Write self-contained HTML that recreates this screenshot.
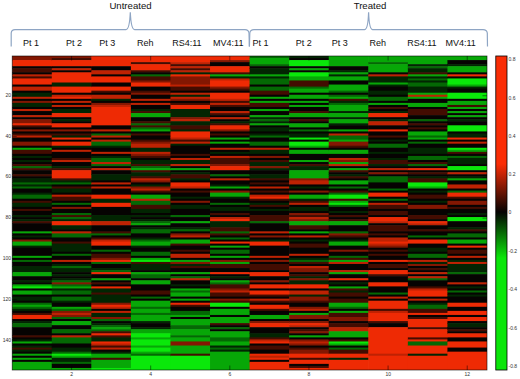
<!DOCTYPE html>
<html><head><meta charset="utf-8"><style>
html,body{margin:0;padding:0;background:#fff;width:520px;height:379px;overflow:hidden}
svg{display:block}
text{font-family:"Liberation Sans",sans-serif}
</style></head><body>
<svg width="520" height="379" viewBox="0 0 520 379" xmlns="http://www.w3.org/2000/svg">
<defs>
<linearGradient id="cb" x1="0" y1="0" x2="0" y2="1">
<stop offset="0" stop-color="rgb(250,45,5)"/>
<stop offset="0.344" stop-color="rgb(250,45,5)"/>
<stop offset="0.497" stop-color="rgb(5,3,2)"/>
<stop offset="0.643" stop-color="rgb(10,230,10)"/>
<stop offset="1" stop-color="rgb(10,230,10)"/>
</linearGradient>
</defs>
<g style="filter:blur(0.4px)">
<rect x="12.20" y="56.000" width="40.17" height="4.678" fill="rgb(131,23,2)"/>
<rect x="12.20" y="60.078" width="40.17" height="6.717" fill="rgb(238,42,4)"/>
<rect x="12.20" y="66.195" width="40.17" height="2.639" fill="rgb(6,3,2)"/>
<rect x="12.20" y="68.234" width="40.17" height="4.678" fill="rgb(67,12,1)"/>
<rect x="12.20" y="72.312" width="40.17" height="2.639" fill="rgb(6,3,2)"/>
<rect x="12.20" y="74.351" width="40.17" height="2.639" fill="rgb(190,34,3)"/>
<rect x="12.20" y="76.390" width="40.17" height="2.639" fill="rgb(67,12,1)"/>
<rect x="12.20" y="78.429" width="40.17" height="6.717" fill="rgb(238,42,4)"/>
<rect x="12.20" y="84.545" width="40.17" height="2.639" fill="rgb(6,3,2)"/>
<rect x="12.20" y="86.584" width="40.17" height="4.678" fill="rgb(190,34,3)"/>
<rect x="12.20" y="90.662" width="40.17" height="2.639" fill="rgb(6,3,2)"/>
<rect x="12.20" y="92.701" width="40.17" height="4.678" fill="rgb(2,37,2)"/>
<rect x="12.20" y="96.779" width="40.17" height="2.639" fill="rgb(190,34,3)"/>
<rect x="12.20" y="98.818" width="40.17" height="2.639" fill="rgb(6,3,2)"/>
<rect x="12.20" y="100.857" width="40.17" height="2.639" fill="rgb(131,23,2)"/>
<rect x="12.20" y="102.896" width="40.17" height="4.678" fill="rgb(2,37,2)"/>
<rect x="12.20" y="106.974" width="40.17" height="2.639" fill="rgb(6,3,2)"/>
<rect x="12.20" y="109.013" width="40.17" height="2.639" fill="rgb(190,34,3)"/>
<rect x="12.20" y="111.052" width="40.17" height="4.678" fill="rgb(6,3,2)"/>
<rect x="12.20" y="115.130" width="40.17" height="2.639" fill="rgb(190,34,3)"/>
<rect x="12.20" y="117.169" width="40.17" height="2.639" fill="rgb(6,3,2)"/>
<rect x="12.20" y="119.208" width="40.17" height="4.678" fill="rgb(131,23,2)"/>
<rect x="12.20" y="123.286" width="40.17" height="2.639" fill="rgb(238,42,4)"/>
<rect x="12.20" y="125.325" width="40.17" height="2.639" fill="rgb(67,12,1)"/>
<rect x="12.20" y="127.364" width="40.17" height="2.639" fill="rgb(6,3,2)"/>
<rect x="12.20" y="129.403" width="40.17" height="2.639" fill="rgb(131,23,2)"/>
<rect x="12.20" y="131.442" width="40.17" height="2.639" fill="rgb(6,3,2)"/>
<rect x="12.20" y="133.481" width="40.17" height="2.639" fill="rgb(67,12,1)"/>
<rect x="12.20" y="135.519" width="40.17" height="2.639" fill="rgb(190,34,3)"/>
<rect x="12.20" y="137.558" width="40.17" height="4.678" fill="rgb(6,3,2)"/>
<rect x="12.20" y="141.636" width="40.17" height="4.678" fill="rgb(131,23,2)"/>
<rect x="12.20" y="145.714" width="40.17" height="2.639" fill="rgb(6,3,2)"/>
<rect x="12.20" y="147.753" width="40.17" height="2.639" fill="rgb(7,167,7)"/>
<rect x="12.20" y="149.792" width="40.17" height="4.678" fill="rgb(67,12,1)"/>
<rect x="12.20" y="153.870" width="40.17" height="2.639" fill="rgb(6,3,2)"/>
<rect x="12.20" y="155.909" width="40.17" height="2.639" fill="rgb(2,37,2)"/>
<rect x="12.20" y="157.948" width="40.17" height="2.639" fill="rgb(6,3,2)"/>
<rect x="12.20" y="159.987" width="40.17" height="2.639" fill="rgb(2,37,2)"/>
<rect x="12.20" y="162.026" width="40.17" height="2.639" fill="rgb(6,3,2)"/>
<rect x="12.20" y="164.065" width="40.17" height="2.639" fill="rgb(67,12,1)"/>
<rect x="12.20" y="166.104" width="40.17" height="2.639" fill="rgb(4,104,4)"/>
<rect x="12.20" y="168.143" width="40.17" height="2.639" fill="rgb(67,12,1)"/>
<rect x="12.20" y="170.182" width="40.17" height="4.678" fill="rgb(6,3,2)"/>
<rect x="12.20" y="174.260" width="40.17" height="2.639" fill="rgb(67,12,1)"/>
<rect x="12.20" y="176.299" width="40.17" height="2.639" fill="rgb(6,3,2)"/>
<rect x="12.20" y="178.338" width="40.17" height="4.678" fill="rgb(2,37,2)"/>
<rect x="12.20" y="182.416" width="40.17" height="2.639" fill="rgb(4,104,4)"/>
<rect x="12.20" y="184.455" width="40.17" height="2.639" fill="rgb(2,37,2)"/>
<rect x="12.20" y="186.494" width="40.17" height="2.639" fill="rgb(4,104,4)"/>
<rect x="12.20" y="188.532" width="40.17" height="4.678" fill="rgb(6,3,2)"/>
<rect x="12.20" y="192.610" width="40.17" height="2.639" fill="rgb(2,37,2)"/>
<rect x="12.20" y="194.649" width="40.17" height="4.678" fill="rgb(4,104,4)"/>
<rect x="12.20" y="198.727" width="40.17" height="2.639" fill="rgb(6,3,2)"/>
<rect x="12.20" y="200.766" width="40.17" height="2.639" fill="rgb(67,12,1)"/>
<rect x="12.20" y="202.805" width="40.17" height="4.678" fill="rgb(2,37,2)"/>
<rect x="12.20" y="206.883" width="40.17" height="2.639" fill="rgb(6,3,2)"/>
<rect x="12.20" y="208.922" width="40.17" height="2.639" fill="rgb(67,12,1)"/>
<rect x="12.20" y="210.961" width="40.17" height="4.678" fill="rgb(6,3,2)"/>
<rect x="12.20" y="215.039" width="40.17" height="2.639" fill="rgb(2,37,2)"/>
<rect x="12.20" y="217.078" width="40.17" height="2.639" fill="rgb(6,3,2)"/>
<rect x="12.20" y="219.117" width="40.17" height="2.639" fill="rgb(2,37,2)"/>
<rect x="12.20" y="221.156" width="40.17" height="2.639" fill="rgb(67,12,1)"/>
<rect x="12.20" y="223.195" width="40.17" height="8.756" fill="rgb(6,3,2)"/>
<rect x="12.20" y="231.351" width="40.17" height="2.639" fill="rgb(7,167,7)"/>
<rect x="12.20" y="233.390" width="40.17" height="2.639" fill="rgb(6,3,2)"/>
<rect x="12.20" y="235.429" width="40.17" height="2.639" fill="rgb(2,37,2)"/>
<rect x="12.20" y="237.468" width="40.17" height="2.639" fill="rgb(6,3,2)"/>
<rect x="12.20" y="239.506" width="40.17" height="2.639" fill="rgb(131,23,2)"/>
<rect x="12.20" y="241.545" width="40.17" height="4.678" fill="rgb(7,167,7)"/>
<rect x="12.20" y="245.623" width="40.17" height="2.639" fill="rgb(2,37,2)"/>
<rect x="12.20" y="247.662" width="40.17" height="8.756" fill="rgb(6,3,2)"/>
<rect x="12.20" y="255.818" width="40.17" height="2.639" fill="rgb(7,167,7)"/>
<rect x="12.20" y="257.857" width="40.17" height="2.639" fill="rgb(6,3,2)"/>
<rect x="12.20" y="259.896" width="40.17" height="2.639" fill="rgb(4,104,4)"/>
<rect x="12.20" y="261.935" width="40.17" height="4.678" fill="rgb(6,3,2)"/>
<rect x="12.20" y="266.013" width="40.17" height="6.717" fill="rgb(2,37,2)"/>
<rect x="12.20" y="272.130" width="40.17" height="4.678" fill="rgb(7,167,7)"/>
<rect x="12.20" y="276.208" width="40.17" height="4.678" fill="rgb(6,3,2)"/>
<rect x="12.20" y="280.286" width="40.17" height="2.639" fill="rgb(2,37,2)"/>
<rect x="12.20" y="282.325" width="40.17" height="2.639" fill="rgb(6,3,2)"/>
<rect x="12.20" y="284.364" width="40.17" height="2.639" fill="rgb(7,167,7)"/>
<rect x="12.20" y="286.403" width="40.17" height="2.639" fill="rgb(10,232,10)"/>
<rect x="12.20" y="288.442" width="40.17" height="2.639" fill="rgb(6,3,2)"/>
<rect x="12.20" y="290.481" width="40.17" height="4.678" fill="rgb(7,167,7)"/>
<rect x="12.20" y="294.558" width="40.17" height="2.639" fill="rgb(6,3,2)"/>
<rect x="12.20" y="296.597" width="40.17" height="4.678" fill="rgb(2,37,2)"/>
<rect x="12.20" y="300.675" width="40.17" height="2.639" fill="rgb(6,3,2)"/>
<rect x="12.20" y="302.714" width="40.17" height="2.639" fill="rgb(4,104,4)"/>
<rect x="12.20" y="304.753" width="40.17" height="2.639" fill="rgb(7,167,7)"/>
<rect x="12.20" y="306.792" width="40.17" height="2.639" fill="rgb(4,104,4)"/>
<rect x="12.20" y="308.831" width="40.17" height="2.639" fill="rgb(2,37,2)"/>
<rect x="12.20" y="310.870" width="40.17" height="2.639" fill="rgb(6,3,2)"/>
<rect x="12.20" y="312.909" width="40.17" height="2.639" fill="rgb(67,12,1)"/>
<rect x="12.20" y="314.948" width="40.17" height="4.678" fill="rgb(238,42,4)"/>
<rect x="12.20" y="319.026" width="40.17" height="2.639" fill="rgb(6,3,2)"/>
<rect x="12.20" y="321.065" width="40.17" height="2.639" fill="rgb(2,37,2)"/>
<rect x="12.20" y="323.104" width="40.17" height="4.678" fill="rgb(4,104,4)"/>
<rect x="12.20" y="327.182" width="40.17" height="8.756" fill="rgb(6,3,2)"/>
<rect x="12.20" y="335.338" width="40.17" height="2.639" fill="rgb(67,12,1)"/>
<rect x="12.20" y="337.377" width="40.17" height="2.639" fill="rgb(6,3,2)"/>
<rect x="12.20" y="339.416" width="40.17" height="2.639" fill="rgb(2,37,2)"/>
<rect x="12.20" y="341.455" width="40.17" height="2.639" fill="rgb(7,167,7)"/>
<rect x="12.20" y="343.494" width="40.17" height="2.639" fill="rgb(6,3,2)"/>
<rect x="12.20" y="345.532" width="40.17" height="2.639" fill="rgb(2,37,2)"/>
<rect x="12.20" y="347.571" width="40.17" height="2.639" fill="rgb(67,12,1)"/>
<rect x="12.20" y="349.610" width="40.17" height="2.639" fill="rgb(2,37,2)"/>
<rect x="12.20" y="351.649" width="40.17" height="2.639" fill="rgb(6,3,2)"/>
<rect x="12.20" y="353.688" width="40.17" height="2.639" fill="rgb(7,167,7)"/>
<rect x="12.20" y="355.727" width="40.17" height="2.639" fill="rgb(6,3,2)"/>
<rect x="12.20" y="357.766" width="40.17" height="2.639" fill="rgb(7,167,7)"/>
<rect x="12.20" y="359.805" width="40.17" height="2.639" fill="rgb(6,3,2)"/>
<rect x="12.20" y="361.844" width="40.17" height="8.156" fill="rgb(7,167,7)"/>
<rect x="51.77" y="56.000" width="40.17" height="2.639" fill="rgb(131,23,2)"/>
<rect x="51.77" y="58.039" width="40.17" height="2.639" fill="rgb(67,12,1)"/>
<rect x="51.77" y="60.078" width="40.17" height="6.717" fill="rgb(238,42,4)"/>
<rect x="51.77" y="66.195" width="40.17" height="2.639" fill="rgb(6,3,2)"/>
<rect x="51.77" y="68.234" width="40.17" height="2.639" fill="rgb(190,34,3)"/>
<rect x="51.77" y="70.273" width="40.17" height="2.639" fill="rgb(6,3,2)"/>
<rect x="51.77" y="72.312" width="40.17" height="10.795" fill="rgb(238,42,4)"/>
<rect x="51.77" y="82.506" width="40.17" height="4.678" fill="rgb(2,37,2)"/>
<rect x="51.77" y="86.584" width="40.17" height="6.717" fill="rgb(238,42,4)"/>
<rect x="51.77" y="92.701" width="40.17" height="2.639" fill="rgb(6,3,2)"/>
<rect x="51.77" y="94.740" width="40.17" height="2.639" fill="rgb(190,34,3)"/>
<rect x="51.77" y="96.779" width="40.17" height="2.639" fill="rgb(238,42,4)"/>
<rect x="51.77" y="98.818" width="40.17" height="2.639" fill="rgb(6,3,2)"/>
<rect x="51.77" y="100.857" width="40.17" height="2.639" fill="rgb(190,34,3)"/>
<rect x="51.77" y="102.896" width="40.17" height="2.639" fill="rgb(6,3,2)"/>
<rect x="51.77" y="104.935" width="40.17" height="2.639" fill="rgb(190,34,3)"/>
<rect x="51.77" y="106.974" width="40.17" height="2.639" fill="rgb(6,3,2)"/>
<rect x="51.77" y="109.013" width="40.17" height="4.678" fill="rgb(2,37,2)"/>
<rect x="51.77" y="113.091" width="40.17" height="4.678" fill="rgb(238,42,4)"/>
<rect x="51.77" y="117.169" width="40.17" height="2.639" fill="rgb(6,3,2)"/>
<rect x="51.77" y="119.208" width="40.17" height="2.639" fill="rgb(2,37,2)"/>
<rect x="51.77" y="121.247" width="40.17" height="2.639" fill="rgb(6,3,2)"/>
<rect x="51.77" y="123.286" width="40.17" height="4.678" fill="rgb(238,42,4)"/>
<rect x="51.77" y="127.364" width="40.17" height="2.639" fill="rgb(6,3,2)"/>
<rect x="51.77" y="129.403" width="40.17" height="2.639" fill="rgb(131,23,2)"/>
<rect x="51.77" y="131.442" width="40.17" height="2.639" fill="rgb(6,3,2)"/>
<rect x="51.77" y="133.481" width="40.17" height="2.639" fill="rgb(67,12,1)"/>
<rect x="51.77" y="135.519" width="40.17" height="2.639" fill="rgb(2,37,2)"/>
<rect x="51.77" y="137.558" width="40.17" height="2.639" fill="rgb(238,42,4)"/>
<rect x="51.77" y="139.597" width="40.17" height="2.639" fill="rgb(6,3,2)"/>
<rect x="51.77" y="141.636" width="40.17" height="4.678" fill="rgb(238,42,4)"/>
<rect x="51.77" y="145.714" width="40.17" height="2.639" fill="rgb(2,37,2)"/>
<rect x="51.77" y="147.753" width="40.17" height="2.639" fill="rgb(6,3,2)"/>
<rect x="51.77" y="149.792" width="40.17" height="2.639" fill="rgb(190,34,3)"/>
<rect x="51.77" y="151.831" width="40.17" height="6.717" fill="rgb(6,3,2)"/>
<rect x="51.77" y="157.948" width="40.17" height="2.639" fill="rgb(67,12,1)"/>
<rect x="51.77" y="159.987" width="40.17" height="2.639" fill="rgb(190,34,3)"/>
<rect x="51.77" y="162.026" width="40.17" height="4.678" fill="rgb(6,3,2)"/>
<rect x="51.77" y="166.104" width="40.17" height="2.639" fill="rgb(2,37,2)"/>
<rect x="51.77" y="168.143" width="40.17" height="2.639" fill="rgb(67,12,1)"/>
<rect x="51.77" y="170.182" width="40.17" height="8.756" fill="rgb(238,42,4)"/>
<rect x="51.77" y="178.338" width="40.17" height="2.639" fill="rgb(67,12,1)"/>
<rect x="51.77" y="180.377" width="40.17" height="2.639" fill="rgb(2,37,2)"/>
<rect x="51.77" y="182.416" width="40.17" height="2.639" fill="rgb(4,104,4)"/>
<rect x="51.77" y="184.455" width="40.17" height="2.639" fill="rgb(6,3,2)"/>
<rect x="51.77" y="186.494" width="40.17" height="2.639" fill="rgb(67,12,1)"/>
<rect x="51.77" y="188.532" width="40.17" height="4.678" fill="rgb(2,37,2)"/>
<rect x="51.77" y="192.610" width="40.17" height="2.639" fill="rgb(6,3,2)"/>
<rect x="51.77" y="194.649" width="40.17" height="2.639" fill="rgb(190,34,3)"/>
<rect x="51.77" y="196.688" width="40.17" height="4.678" fill="rgb(67,12,1)"/>
<rect x="51.77" y="200.766" width="40.17" height="2.639" fill="rgb(6,3,2)"/>
<rect x="51.77" y="202.805" width="40.17" height="2.639" fill="rgb(4,104,4)"/>
<rect x="51.77" y="204.844" width="40.17" height="2.639" fill="rgb(6,3,2)"/>
<rect x="51.77" y="206.883" width="40.17" height="2.639" fill="rgb(131,23,2)"/>
<rect x="51.77" y="208.922" width="40.17" height="4.678" fill="rgb(6,3,2)"/>
<rect x="51.77" y="213.000" width="40.17" height="2.639" fill="rgb(4,104,4)"/>
<rect x="51.77" y="215.039" width="40.17" height="2.639" fill="rgb(67,12,1)"/>
<rect x="51.77" y="217.078" width="40.17" height="2.639" fill="rgb(4,104,4)"/>
<rect x="51.77" y="219.117" width="40.17" height="2.639" fill="rgb(2,37,2)"/>
<rect x="51.77" y="221.156" width="40.17" height="4.678" fill="rgb(238,42,4)"/>
<rect x="51.77" y="225.234" width="40.17" height="4.678" fill="rgb(2,37,2)"/>
<rect x="51.77" y="229.312" width="40.17" height="2.639" fill="rgb(6,3,2)"/>
<rect x="51.77" y="231.351" width="40.17" height="2.639" fill="rgb(190,34,3)"/>
<rect x="51.77" y="233.390" width="40.17" height="4.678" fill="rgb(4,104,4)"/>
<rect x="51.77" y="237.468" width="40.17" height="4.678" fill="rgb(6,3,2)"/>
<rect x="51.77" y="241.545" width="40.17" height="2.639" fill="rgb(67,12,1)"/>
<rect x="51.77" y="243.584" width="40.17" height="8.756" fill="rgb(2,37,2)"/>
<rect x="51.77" y="251.740" width="40.17" height="2.639" fill="rgb(6,3,2)"/>
<rect x="51.77" y="253.779" width="40.17" height="2.639" fill="rgb(4,104,4)"/>
<rect x="51.77" y="255.818" width="40.17" height="4.678" fill="rgb(6,3,2)"/>
<rect x="51.77" y="259.896" width="40.17" height="2.639" fill="rgb(190,34,3)"/>
<rect x="51.77" y="261.935" width="40.17" height="2.639" fill="rgb(6,3,2)"/>
<rect x="51.77" y="263.974" width="40.17" height="2.639" fill="rgb(2,37,2)"/>
<rect x="51.77" y="266.013" width="40.17" height="2.639" fill="rgb(4,104,4)"/>
<rect x="51.77" y="268.052" width="40.17" height="4.678" fill="rgb(2,37,2)"/>
<rect x="51.77" y="272.130" width="40.17" height="2.639" fill="rgb(6,3,2)"/>
<rect x="51.77" y="274.169" width="40.17" height="2.639" fill="rgb(2,37,2)"/>
<rect x="51.77" y="276.208" width="40.17" height="2.639" fill="rgb(6,3,2)"/>
<rect x="51.77" y="278.247" width="40.17" height="2.639" fill="rgb(2,37,2)"/>
<rect x="51.77" y="280.286" width="40.17" height="2.639" fill="rgb(4,104,4)"/>
<rect x="51.77" y="282.325" width="40.17" height="2.639" fill="rgb(131,23,2)"/>
<rect x="51.77" y="284.364" width="40.17" height="2.639" fill="rgb(4,104,4)"/>
<rect x="51.77" y="286.403" width="40.17" height="2.639" fill="rgb(7,167,7)"/>
<rect x="51.77" y="288.442" width="40.17" height="2.639" fill="rgb(2,37,2)"/>
<rect x="51.77" y="290.481" width="40.17" height="4.678" fill="rgb(4,104,4)"/>
<rect x="51.77" y="294.558" width="40.17" height="2.639" fill="rgb(6,3,2)"/>
<rect x="51.77" y="296.597" width="40.17" height="4.678" fill="rgb(4,104,4)"/>
<rect x="51.77" y="300.675" width="40.17" height="2.639" fill="rgb(2,37,2)"/>
<rect x="51.77" y="302.714" width="40.17" height="4.678" fill="rgb(6,3,2)"/>
<rect x="51.77" y="306.792" width="40.17" height="2.639" fill="rgb(7,167,7)"/>
<rect x="51.77" y="308.831" width="40.17" height="2.639" fill="rgb(4,104,4)"/>
<rect x="51.77" y="310.870" width="40.17" height="2.639" fill="rgb(131,23,2)"/>
<rect x="51.77" y="312.909" width="40.17" height="2.639" fill="rgb(190,34,3)"/>
<rect x="51.77" y="314.948" width="40.17" height="2.639" fill="rgb(131,23,2)"/>
<rect x="51.77" y="316.987" width="40.17" height="2.639" fill="rgb(4,104,4)"/>
<rect x="51.77" y="319.026" width="40.17" height="2.639" fill="rgb(6,3,2)"/>
<rect x="51.77" y="321.065" width="40.17" height="4.678" fill="rgb(7,167,7)"/>
<rect x="51.77" y="325.143" width="40.17" height="4.678" fill="rgb(6,3,2)"/>
<rect x="51.77" y="329.221" width="40.17" height="4.678" fill="rgb(4,104,4)"/>
<rect x="51.77" y="333.299" width="40.17" height="2.639" fill="rgb(6,3,2)"/>
<rect x="51.77" y="335.338" width="40.17" height="2.639" fill="rgb(190,34,3)"/>
<rect x="51.77" y="337.377" width="40.17" height="6.717" fill="rgb(4,104,4)"/>
<rect x="51.77" y="343.494" width="40.17" height="4.678" fill="rgb(6,3,2)"/>
<rect x="51.77" y="347.571" width="40.17" height="4.678" fill="rgb(2,37,2)"/>
<rect x="51.77" y="351.649" width="40.17" height="2.639" fill="rgb(4,104,4)"/>
<rect x="51.77" y="353.688" width="40.17" height="2.639" fill="rgb(10,232,10)"/>
<rect x="51.77" y="355.727" width="40.17" height="2.639" fill="rgb(7,167,7)"/>
<rect x="51.77" y="357.766" width="40.17" height="4.678" fill="rgb(2,37,2)"/>
<rect x="51.77" y="361.844" width="40.17" height="2.639" fill="rgb(4,104,4)"/>
<rect x="51.77" y="363.883" width="40.17" height="4.678" fill="rgb(6,3,2)"/>
<rect x="51.77" y="367.961" width="40.17" height="2.039" fill="rgb(7,167,7)"/>
<rect x="91.33" y="56.000" width="40.17" height="10.795" fill="rgb(238,42,4)"/>
<rect x="91.33" y="66.195" width="40.17" height="4.678" fill="rgb(6,3,2)"/>
<rect x="91.33" y="70.273" width="40.17" height="4.678" fill="rgb(190,34,3)"/>
<rect x="91.33" y="74.351" width="40.17" height="2.639" fill="rgb(6,3,2)"/>
<rect x="91.33" y="76.390" width="40.17" height="6.717" fill="rgb(238,42,4)"/>
<rect x="91.33" y="82.506" width="40.17" height="4.678" fill="rgb(6,3,2)"/>
<rect x="91.33" y="86.584" width="40.17" height="4.678" fill="rgb(238,42,4)"/>
<rect x="91.33" y="90.662" width="40.17" height="2.639" fill="rgb(67,12,1)"/>
<rect x="91.33" y="92.701" width="40.17" height="2.639" fill="rgb(6,3,2)"/>
<rect x="91.33" y="94.740" width="40.17" height="4.678" fill="rgb(190,34,3)"/>
<rect x="91.33" y="98.818" width="40.17" height="2.639" fill="rgb(2,37,2)"/>
<rect x="91.33" y="100.857" width="40.17" height="2.639" fill="rgb(6,3,2)"/>
<rect x="91.33" y="102.896" width="40.17" height="2.639" fill="rgb(131,23,2)"/>
<rect x="91.33" y="104.935" width="40.17" height="2.639" fill="rgb(190,34,3)"/>
<rect x="91.33" y="106.974" width="40.17" height="18.951" fill="rgb(238,42,4)"/>
<rect x="91.33" y="125.325" width="40.17" height="4.678" fill="rgb(6,3,2)"/>
<rect x="91.33" y="129.403" width="40.17" height="2.639" fill="rgb(190,34,3)"/>
<rect x="91.33" y="131.442" width="40.17" height="2.639" fill="rgb(6,3,2)"/>
<rect x="91.33" y="133.481" width="40.17" height="2.639" fill="rgb(4,104,4)"/>
<rect x="91.33" y="135.519" width="40.17" height="2.639" fill="rgb(190,34,3)"/>
<rect x="91.33" y="137.558" width="40.17" height="2.639" fill="rgb(6,3,2)"/>
<rect x="91.33" y="139.597" width="40.17" height="2.639" fill="rgb(190,34,3)"/>
<rect x="91.33" y="141.636" width="40.17" height="4.678" fill="rgb(4,104,4)"/>
<rect x="91.33" y="145.714" width="40.17" height="2.639" fill="rgb(2,37,2)"/>
<rect x="91.33" y="147.753" width="40.17" height="4.678" fill="rgb(6,3,2)"/>
<rect x="91.33" y="151.831" width="40.17" height="2.639" fill="rgb(190,34,3)"/>
<rect x="91.33" y="153.870" width="40.17" height="2.639" fill="rgb(6,3,2)"/>
<rect x="91.33" y="155.909" width="40.17" height="2.639" fill="rgb(2,37,2)"/>
<rect x="91.33" y="157.948" width="40.17" height="4.678" fill="rgb(4,104,4)"/>
<rect x="91.33" y="162.026" width="40.17" height="2.639" fill="rgb(190,34,3)"/>
<rect x="91.33" y="164.065" width="40.17" height="2.639" fill="rgb(4,104,4)"/>
<rect x="91.33" y="166.104" width="40.17" height="2.639" fill="rgb(6,3,2)"/>
<rect x="91.33" y="168.143" width="40.17" height="2.639" fill="rgb(190,34,3)"/>
<rect x="91.33" y="170.182" width="40.17" height="4.678" fill="rgb(6,3,2)"/>
<rect x="91.33" y="174.260" width="40.17" height="6.717" fill="rgb(2,37,2)"/>
<rect x="91.33" y="180.377" width="40.17" height="2.639" fill="rgb(6,3,2)"/>
<rect x="91.33" y="182.416" width="40.17" height="2.639" fill="rgb(190,34,3)"/>
<rect x="91.33" y="184.455" width="40.17" height="2.639" fill="rgb(6,3,2)"/>
<rect x="91.33" y="186.494" width="40.17" height="2.639" fill="rgb(190,34,3)"/>
<rect x="91.33" y="188.532" width="40.17" height="6.717" fill="rgb(6,3,2)"/>
<rect x="91.33" y="194.649" width="40.17" height="4.678" fill="rgb(238,42,4)"/>
<rect x="91.33" y="198.727" width="40.17" height="4.678" fill="rgb(2,37,2)"/>
<rect x="91.33" y="202.805" width="40.17" height="4.678" fill="rgb(238,42,4)"/>
<rect x="91.33" y="206.883" width="40.17" height="8.756" fill="rgb(6,3,2)"/>
<rect x="91.33" y="215.039" width="40.17" height="6.717" fill="rgb(2,37,2)"/>
<rect x="91.33" y="221.156" width="40.17" height="4.678" fill="rgb(190,34,3)"/>
<rect x="91.33" y="225.234" width="40.17" height="6.717" fill="rgb(6,3,2)"/>
<rect x="91.33" y="231.351" width="40.17" height="2.639" fill="rgb(67,12,1)"/>
<rect x="91.33" y="233.390" width="40.17" height="2.639" fill="rgb(4,104,4)"/>
<rect x="91.33" y="235.429" width="40.17" height="2.639" fill="rgb(6,3,2)"/>
<rect x="91.33" y="237.468" width="40.17" height="2.639" fill="rgb(67,12,1)"/>
<rect x="91.33" y="239.506" width="40.17" height="2.639" fill="rgb(190,34,3)"/>
<rect x="91.33" y="241.545" width="40.17" height="4.678" fill="rgb(238,42,4)"/>
<rect x="91.33" y="245.623" width="40.17" height="4.678" fill="rgb(6,3,2)"/>
<rect x="91.33" y="249.701" width="40.17" height="2.639" fill="rgb(4,104,4)"/>
<rect x="91.33" y="251.740" width="40.17" height="2.639" fill="rgb(6,3,2)"/>
<rect x="91.33" y="253.779" width="40.17" height="4.678" fill="rgb(67,12,1)"/>
<rect x="91.33" y="257.857" width="40.17" height="2.639" fill="rgb(131,23,2)"/>
<rect x="91.33" y="259.896" width="40.17" height="2.639" fill="rgb(238,42,4)"/>
<rect x="91.33" y="261.935" width="40.17" height="2.639" fill="rgb(4,104,4)"/>
<rect x="91.33" y="263.974" width="40.17" height="4.678" fill="rgb(6,3,2)"/>
<rect x="91.33" y="268.052" width="40.17" height="2.639" fill="rgb(2,37,2)"/>
<rect x="91.33" y="270.091" width="40.17" height="2.639" fill="rgb(4,104,4)"/>
<rect x="91.33" y="272.130" width="40.17" height="2.639" fill="rgb(238,42,4)"/>
<rect x="91.33" y="274.169" width="40.17" height="4.678" fill="rgb(6,3,2)"/>
<rect x="91.33" y="278.247" width="40.17" height="2.639" fill="rgb(7,167,7)"/>
<rect x="91.33" y="280.286" width="40.17" height="2.639" fill="rgb(6,3,2)"/>
<rect x="91.33" y="282.325" width="40.17" height="2.639" fill="rgb(67,12,1)"/>
<rect x="91.33" y="284.364" width="40.17" height="2.639" fill="rgb(6,3,2)"/>
<rect x="91.33" y="286.403" width="40.17" height="2.639" fill="rgb(238,42,4)"/>
<rect x="91.33" y="288.442" width="40.17" height="4.678" fill="rgb(2,37,2)"/>
<rect x="91.33" y="292.519" width="40.17" height="2.639" fill="rgb(67,12,1)"/>
<rect x="91.33" y="294.558" width="40.17" height="8.756" fill="rgb(2,37,2)"/>
<rect x="91.33" y="302.714" width="40.17" height="2.639" fill="rgb(131,23,2)"/>
<rect x="91.33" y="304.753" width="40.17" height="2.639" fill="rgb(238,42,4)"/>
<rect x="91.33" y="306.792" width="40.17" height="2.639" fill="rgb(190,34,3)"/>
<rect x="91.33" y="308.831" width="40.17" height="2.639" fill="rgb(6,3,2)"/>
<rect x="91.33" y="310.870" width="40.17" height="2.639" fill="rgb(190,34,3)"/>
<rect x="91.33" y="312.909" width="40.17" height="4.678" fill="rgb(2,37,2)"/>
<rect x="91.33" y="316.987" width="40.17" height="2.639" fill="rgb(131,23,2)"/>
<rect x="91.33" y="319.026" width="40.17" height="2.639" fill="rgb(4,104,4)"/>
<rect x="91.33" y="321.065" width="40.17" height="2.639" fill="rgb(6,3,2)"/>
<rect x="91.33" y="323.104" width="40.17" height="2.639" fill="rgb(2,37,2)"/>
<rect x="91.33" y="325.143" width="40.17" height="2.639" fill="rgb(4,104,4)"/>
<rect x="91.33" y="327.182" width="40.17" height="2.639" fill="rgb(7,167,7)"/>
<rect x="91.33" y="329.221" width="40.17" height="2.639" fill="rgb(4,104,4)"/>
<rect x="91.33" y="331.260" width="40.17" height="2.639" fill="rgb(67,12,1)"/>
<rect x="91.33" y="333.299" width="40.17" height="2.639" fill="rgb(238,42,4)"/>
<rect x="91.33" y="335.338" width="40.17" height="2.639" fill="rgb(67,12,1)"/>
<rect x="91.33" y="337.377" width="40.17" height="4.678" fill="rgb(2,37,2)"/>
<rect x="91.33" y="341.455" width="40.17" height="2.639" fill="rgb(238,42,4)"/>
<rect x="91.33" y="343.494" width="40.17" height="2.639" fill="rgb(190,34,3)"/>
<rect x="91.33" y="345.532" width="40.17" height="2.639" fill="rgb(67,12,1)"/>
<rect x="91.33" y="347.571" width="40.17" height="2.639" fill="rgb(190,34,3)"/>
<rect x="91.33" y="349.610" width="40.17" height="2.639" fill="rgb(6,3,2)"/>
<rect x="91.33" y="351.649" width="40.17" height="2.639" fill="rgb(2,37,2)"/>
<rect x="91.33" y="353.688" width="40.17" height="4.678" fill="rgb(7,167,7)"/>
<rect x="91.33" y="357.766" width="40.17" height="2.639" fill="rgb(67,12,1)"/>
<rect x="91.33" y="359.805" width="40.17" height="8.756" fill="rgb(7,167,7)"/>
<rect x="91.33" y="367.961" width="40.17" height="2.039" fill="rgb(10,232,10)"/>
<rect x="130.90" y="56.000" width="40.17" height="6.717" fill="rgb(238,42,4)"/>
<rect x="130.90" y="62.117" width="40.17" height="2.639" fill="rgb(67,12,1)"/>
<rect x="130.90" y="64.156" width="40.17" height="6.717" fill="rgb(238,42,4)"/>
<rect x="130.90" y="70.273" width="40.17" height="2.639" fill="rgb(67,12,1)"/>
<rect x="130.90" y="72.312" width="40.17" height="2.639" fill="rgb(6,3,2)"/>
<rect x="130.90" y="74.351" width="40.17" height="2.639" fill="rgb(4,104,4)"/>
<rect x="130.90" y="76.390" width="40.17" height="4.678" fill="rgb(67,12,1)"/>
<rect x="130.90" y="80.468" width="40.17" height="2.639" fill="rgb(131,23,2)"/>
<rect x="130.90" y="82.506" width="40.17" height="4.678" fill="rgb(238,42,4)"/>
<rect x="130.90" y="86.584" width="40.17" height="4.678" fill="rgb(6,3,2)"/>
<rect x="130.90" y="90.662" width="40.17" height="2.639" fill="rgb(67,12,1)"/>
<rect x="130.90" y="92.701" width="40.17" height="2.639" fill="rgb(131,23,2)"/>
<rect x="130.90" y="94.740" width="40.17" height="4.678" fill="rgb(6,3,2)"/>
<rect x="130.90" y="98.818" width="40.17" height="2.639" fill="rgb(190,34,3)"/>
<rect x="130.90" y="100.857" width="40.17" height="2.639" fill="rgb(6,3,2)"/>
<rect x="130.90" y="102.896" width="40.17" height="2.639" fill="rgb(190,34,3)"/>
<rect x="130.90" y="104.935" width="40.17" height="4.678" fill="rgb(6,3,2)"/>
<rect x="130.90" y="109.013" width="40.17" height="2.639" fill="rgb(2,37,2)"/>
<rect x="130.90" y="111.052" width="40.17" height="2.639" fill="rgb(67,12,1)"/>
<rect x="130.90" y="113.091" width="40.17" height="4.678" fill="rgb(7,167,7)"/>
<rect x="130.90" y="117.169" width="40.17" height="4.678" fill="rgb(6,3,2)"/>
<rect x="130.90" y="121.247" width="40.17" height="2.639" fill="rgb(67,12,1)"/>
<rect x="130.90" y="123.286" width="40.17" height="2.639" fill="rgb(4,104,4)"/>
<rect x="130.90" y="125.325" width="40.17" height="2.639" fill="rgb(67,12,1)"/>
<rect x="130.90" y="127.364" width="40.17" height="2.639" fill="rgb(4,104,4)"/>
<rect x="130.90" y="129.403" width="40.17" height="2.639" fill="rgb(7,167,7)"/>
<rect x="130.90" y="131.442" width="40.17" height="2.639" fill="rgb(6,3,2)"/>
<rect x="130.90" y="133.481" width="40.17" height="2.639" fill="rgb(67,12,1)"/>
<rect x="130.90" y="135.519" width="40.17" height="4.678" fill="rgb(6,3,2)"/>
<rect x="130.90" y="139.597" width="40.17" height="2.639" fill="rgb(67,12,1)"/>
<rect x="130.90" y="141.636" width="40.17" height="2.639" fill="rgb(131,23,2)"/>
<rect x="130.90" y="143.675" width="40.17" height="4.678" fill="rgb(190,34,3)"/>
<rect x="130.90" y="147.753" width="40.17" height="4.678" fill="rgb(2,37,2)"/>
<rect x="130.90" y="151.831" width="40.17" height="2.639" fill="rgb(190,34,3)"/>
<rect x="130.90" y="153.870" width="40.17" height="2.639" fill="rgb(131,23,2)"/>
<rect x="130.90" y="155.909" width="40.17" height="2.639" fill="rgb(67,12,1)"/>
<rect x="130.90" y="157.948" width="40.17" height="2.639" fill="rgb(6,3,2)"/>
<rect x="130.90" y="159.987" width="40.17" height="4.678" fill="rgb(2,37,2)"/>
<rect x="130.90" y="164.065" width="40.17" height="2.639" fill="rgb(67,12,1)"/>
<rect x="130.90" y="166.104" width="40.17" height="2.639" fill="rgb(4,104,4)"/>
<rect x="130.90" y="168.143" width="40.17" height="2.639" fill="rgb(7,167,7)"/>
<rect x="130.90" y="170.182" width="40.17" height="2.639" fill="rgb(67,12,1)"/>
<rect x="130.90" y="172.221" width="40.17" height="4.678" fill="rgb(2,37,2)"/>
<rect x="130.90" y="176.299" width="40.17" height="2.639" fill="rgb(67,12,1)"/>
<rect x="130.90" y="178.338" width="40.17" height="2.639" fill="rgb(190,34,3)"/>
<rect x="130.90" y="180.377" width="40.17" height="2.639" fill="rgb(131,23,2)"/>
<rect x="130.90" y="182.416" width="40.17" height="2.639" fill="rgb(6,3,2)"/>
<rect x="130.90" y="184.455" width="40.17" height="2.639" fill="rgb(2,37,2)"/>
<rect x="130.90" y="186.494" width="40.17" height="2.639" fill="rgb(131,23,2)"/>
<rect x="130.90" y="188.532" width="40.17" height="2.639" fill="rgb(190,34,3)"/>
<rect x="130.90" y="190.571" width="40.17" height="2.639" fill="rgb(67,12,1)"/>
<rect x="130.90" y="192.610" width="40.17" height="2.639" fill="rgb(6,3,2)"/>
<rect x="130.90" y="194.649" width="40.17" height="4.678" fill="rgb(7,167,7)"/>
<rect x="130.90" y="198.727" width="40.17" height="2.639" fill="rgb(190,34,3)"/>
<rect x="130.90" y="200.766" width="40.17" height="4.678" fill="rgb(4,104,4)"/>
<rect x="130.90" y="204.844" width="40.17" height="4.678" fill="rgb(67,12,1)"/>
<rect x="130.90" y="208.922" width="40.17" height="4.678" fill="rgb(2,37,2)"/>
<rect x="130.90" y="213.000" width="40.17" height="2.639" fill="rgb(6,3,2)"/>
<rect x="130.90" y="215.039" width="40.17" height="2.639" fill="rgb(2,37,2)"/>
<rect x="130.90" y="217.078" width="40.17" height="2.639" fill="rgb(6,3,2)"/>
<rect x="130.90" y="219.117" width="40.17" height="2.639" fill="rgb(2,37,2)"/>
<rect x="130.90" y="221.156" width="40.17" height="2.639" fill="rgb(4,104,4)"/>
<rect x="130.90" y="223.195" width="40.17" height="2.639" fill="rgb(7,167,7)"/>
<rect x="130.90" y="225.234" width="40.17" height="2.639" fill="rgb(6,3,2)"/>
<rect x="130.90" y="227.273" width="40.17" height="2.639" fill="rgb(2,37,2)"/>
<rect x="130.90" y="229.312" width="40.17" height="4.678" fill="rgb(4,104,4)"/>
<rect x="130.90" y="233.390" width="40.17" height="4.678" fill="rgb(6,3,2)"/>
<rect x="130.90" y="237.468" width="40.17" height="2.639" fill="rgb(2,37,2)"/>
<rect x="130.90" y="239.506" width="40.17" height="2.639" fill="rgb(4,104,4)"/>
<rect x="130.90" y="241.545" width="40.17" height="4.678" fill="rgb(7,167,7)"/>
<rect x="130.90" y="245.623" width="40.17" height="2.639" fill="rgb(2,37,2)"/>
<rect x="130.90" y="247.662" width="40.17" height="4.678" fill="rgb(6,3,2)"/>
<rect x="130.90" y="251.740" width="40.17" height="4.678" fill="rgb(4,104,4)"/>
<rect x="130.90" y="255.818" width="40.17" height="2.639" fill="rgb(6,3,2)"/>
<rect x="130.90" y="257.857" width="40.17" height="2.639" fill="rgb(7,167,7)"/>
<rect x="130.90" y="259.896" width="40.17" height="2.639" fill="rgb(10,232,10)"/>
<rect x="130.90" y="261.935" width="40.17" height="2.639" fill="rgb(67,12,1)"/>
<rect x="130.90" y="263.974" width="40.17" height="6.717" fill="rgb(2,37,2)"/>
<rect x="130.90" y="270.091" width="40.17" height="2.639" fill="rgb(6,3,2)"/>
<rect x="130.90" y="272.130" width="40.17" height="2.639" fill="rgb(7,167,7)"/>
<rect x="130.90" y="274.169" width="40.17" height="4.678" fill="rgb(4,104,4)"/>
<rect x="130.90" y="278.247" width="40.17" height="2.639" fill="rgb(6,3,2)"/>
<rect x="130.90" y="280.286" width="40.17" height="4.678" fill="rgb(7,167,7)"/>
<rect x="130.90" y="284.364" width="40.17" height="6.717" fill="rgb(6,3,2)"/>
<rect x="130.90" y="290.481" width="40.17" height="4.678" fill="rgb(67,12,1)"/>
<rect x="130.90" y="294.558" width="40.17" height="2.639" fill="rgb(6,3,2)"/>
<rect x="130.90" y="296.597" width="40.17" height="2.639" fill="rgb(4,104,4)"/>
<rect x="130.90" y="298.636" width="40.17" height="2.639" fill="rgb(6,3,2)"/>
<rect x="130.90" y="300.675" width="40.17" height="6.717" fill="rgb(7,167,7)"/>
<rect x="130.90" y="306.792" width="40.17" height="2.639" fill="rgb(4,104,4)"/>
<rect x="130.90" y="308.831" width="40.17" height="4.678" fill="rgb(7,167,7)"/>
<rect x="130.90" y="312.909" width="40.17" height="2.639" fill="rgb(4,104,4)"/>
<rect x="130.90" y="314.948" width="40.17" height="6.717" fill="rgb(7,167,7)"/>
<rect x="130.90" y="321.065" width="40.17" height="2.639" fill="rgb(2,37,2)"/>
<rect x="130.90" y="323.104" width="40.17" height="4.678" fill="rgb(6,3,2)"/>
<rect x="130.90" y="327.182" width="40.17" height="2.639" fill="rgb(2,37,2)"/>
<rect x="130.90" y="329.221" width="40.17" height="4.678" fill="rgb(7,167,7)"/>
<rect x="130.90" y="333.299" width="40.17" height="4.678" fill="rgb(10,232,10)"/>
<rect x="130.90" y="337.377" width="40.17" height="2.639" fill="rgb(7,167,7)"/>
<rect x="130.90" y="339.416" width="40.17" height="6.717" fill="rgb(10,232,10)"/>
<rect x="130.90" y="345.532" width="40.17" height="2.639" fill="rgb(7,167,7)"/>
<rect x="130.90" y="347.571" width="40.17" height="4.678" fill="rgb(10,232,10)"/>
<rect x="130.90" y="351.649" width="40.17" height="2.639" fill="rgb(7,167,7)"/>
<rect x="130.90" y="353.688" width="40.17" height="2.639" fill="rgb(4,104,4)"/>
<rect x="130.90" y="355.727" width="40.17" height="14.273" fill="rgb(10,232,10)"/>
<rect x="170.47" y="56.000" width="40.17" height="6.717" fill="rgb(238,42,4)"/>
<rect x="170.47" y="62.117" width="40.17" height="2.639" fill="rgb(190,34,3)"/>
<rect x="170.47" y="64.156" width="40.17" height="2.639" fill="rgb(67,12,1)"/>
<rect x="170.47" y="66.195" width="40.17" height="2.639" fill="rgb(190,34,3)"/>
<rect x="170.47" y="68.234" width="40.17" height="2.639" fill="rgb(67,12,1)"/>
<rect x="170.47" y="70.273" width="40.17" height="2.639" fill="rgb(190,34,3)"/>
<rect x="170.47" y="72.312" width="40.17" height="2.639" fill="rgb(2,37,2)"/>
<rect x="170.47" y="74.351" width="40.17" height="2.639" fill="rgb(238,42,4)"/>
<rect x="170.47" y="76.390" width="40.17" height="8.756" fill="rgb(131,23,2)"/>
<rect x="170.47" y="84.545" width="40.17" height="2.639" fill="rgb(190,34,3)"/>
<rect x="170.47" y="86.584" width="40.17" height="4.678" fill="rgb(67,12,1)"/>
<rect x="170.47" y="90.662" width="40.17" height="2.639" fill="rgb(6,3,2)"/>
<rect x="170.47" y="92.701" width="40.17" height="2.639" fill="rgb(190,34,3)"/>
<rect x="170.47" y="94.740" width="40.17" height="2.639" fill="rgb(2,37,2)"/>
<rect x="170.47" y="96.779" width="40.17" height="2.639" fill="rgb(190,34,3)"/>
<rect x="170.47" y="98.818" width="40.17" height="2.639" fill="rgb(131,23,2)"/>
<rect x="170.47" y="100.857" width="40.17" height="2.639" fill="rgb(6,3,2)"/>
<rect x="170.47" y="102.896" width="40.17" height="2.639" fill="rgb(67,12,1)"/>
<rect x="170.47" y="104.935" width="40.17" height="4.678" fill="rgb(238,42,4)"/>
<rect x="170.47" y="109.013" width="40.17" height="8.756" fill="rgb(2,37,2)"/>
<rect x="170.47" y="117.169" width="40.17" height="2.639" fill="rgb(131,23,2)"/>
<rect x="170.47" y="119.208" width="40.17" height="2.639" fill="rgb(190,34,3)"/>
<rect x="170.47" y="121.247" width="40.17" height="4.678" fill="rgb(2,37,2)"/>
<rect x="170.47" y="125.325" width="40.17" height="4.678" fill="rgb(67,12,1)"/>
<rect x="170.47" y="129.403" width="40.17" height="2.639" fill="rgb(2,37,2)"/>
<rect x="170.47" y="131.442" width="40.17" height="6.717" fill="rgb(238,42,4)"/>
<rect x="170.47" y="137.558" width="40.17" height="2.639" fill="rgb(190,34,3)"/>
<rect x="170.47" y="139.597" width="40.17" height="2.639" fill="rgb(67,12,1)"/>
<rect x="170.47" y="141.636" width="40.17" height="2.639" fill="rgb(190,34,3)"/>
<rect x="170.47" y="143.675" width="40.17" height="2.639" fill="rgb(2,37,2)"/>
<rect x="170.47" y="145.714" width="40.17" height="8.756" fill="rgb(6,3,2)"/>
<rect x="170.47" y="153.870" width="40.17" height="2.639" fill="rgb(67,12,1)"/>
<rect x="170.47" y="155.909" width="40.17" height="2.639" fill="rgb(6,3,2)"/>
<rect x="170.47" y="157.948" width="40.17" height="2.639" fill="rgb(190,34,3)"/>
<rect x="170.47" y="159.987" width="40.17" height="4.678" fill="rgb(2,37,2)"/>
<rect x="170.47" y="164.065" width="40.17" height="2.639" fill="rgb(190,34,3)"/>
<rect x="170.47" y="166.104" width="40.17" height="2.639" fill="rgb(6,3,2)"/>
<rect x="170.47" y="168.143" width="40.17" height="2.639" fill="rgb(7,167,7)"/>
<rect x="170.47" y="170.182" width="40.17" height="2.639" fill="rgb(6,3,2)"/>
<rect x="170.47" y="172.221" width="40.17" height="2.639" fill="rgb(2,37,2)"/>
<rect x="170.47" y="174.260" width="40.17" height="4.678" fill="rgb(67,12,1)"/>
<rect x="170.47" y="178.338" width="40.17" height="2.639" fill="rgb(2,37,2)"/>
<rect x="170.47" y="180.377" width="40.17" height="2.639" fill="rgb(6,3,2)"/>
<rect x="170.47" y="182.416" width="40.17" height="4.678" fill="rgb(238,42,4)"/>
<rect x="170.47" y="186.494" width="40.17" height="2.639" fill="rgb(190,34,3)"/>
<rect x="170.47" y="188.532" width="40.17" height="2.639" fill="rgb(6,3,2)"/>
<rect x="170.47" y="190.571" width="40.17" height="2.639" fill="rgb(67,12,1)"/>
<rect x="170.47" y="192.610" width="40.17" height="4.678" fill="rgb(6,3,2)"/>
<rect x="170.47" y="196.688" width="40.17" height="2.639" fill="rgb(2,37,2)"/>
<rect x="170.47" y="198.727" width="40.17" height="2.639" fill="rgb(6,3,2)"/>
<rect x="170.47" y="200.766" width="40.17" height="2.639" fill="rgb(131,23,2)"/>
<rect x="170.47" y="202.805" width="40.17" height="2.639" fill="rgb(6,3,2)"/>
<rect x="170.47" y="204.844" width="40.17" height="4.678" fill="rgb(2,37,2)"/>
<rect x="170.47" y="208.922" width="40.17" height="6.717" fill="rgb(6,3,2)"/>
<rect x="170.47" y="215.039" width="40.17" height="2.639" fill="rgb(4,104,4)"/>
<rect x="170.47" y="217.078" width="40.17" height="4.678" fill="rgb(6,3,2)"/>
<rect x="170.47" y="221.156" width="40.17" height="2.639" fill="rgb(7,167,7)"/>
<rect x="170.47" y="223.195" width="40.17" height="4.678" fill="rgb(6,3,2)"/>
<rect x="170.47" y="227.273" width="40.17" height="2.639" fill="rgb(2,37,2)"/>
<rect x="170.47" y="229.312" width="40.17" height="2.639" fill="rgb(4,104,4)"/>
<rect x="170.47" y="231.351" width="40.17" height="2.639" fill="rgb(6,3,2)"/>
<rect x="170.47" y="233.390" width="40.17" height="2.639" fill="rgb(131,23,2)"/>
<rect x="170.47" y="235.429" width="40.17" height="2.639" fill="rgb(190,34,3)"/>
<rect x="170.47" y="237.468" width="40.17" height="2.639" fill="rgb(6,3,2)"/>
<rect x="170.47" y="239.506" width="40.17" height="4.678" fill="rgb(7,167,7)"/>
<rect x="170.47" y="243.584" width="40.17" height="2.639" fill="rgb(67,12,1)"/>
<rect x="170.47" y="245.623" width="40.17" height="4.678" fill="rgb(6,3,2)"/>
<rect x="170.47" y="249.701" width="40.17" height="2.639" fill="rgb(67,12,1)"/>
<rect x="170.47" y="251.740" width="40.17" height="2.639" fill="rgb(6,3,2)"/>
<rect x="170.47" y="253.779" width="40.17" height="4.678" fill="rgb(190,34,3)"/>
<rect x="170.47" y="257.857" width="40.17" height="2.639" fill="rgb(6,3,2)"/>
<rect x="170.47" y="259.896" width="40.17" height="2.639" fill="rgb(7,167,7)"/>
<rect x="170.47" y="261.935" width="40.17" height="2.639" fill="rgb(131,23,2)"/>
<rect x="170.47" y="263.974" width="40.17" height="2.639" fill="rgb(2,37,2)"/>
<rect x="170.47" y="266.013" width="40.17" height="2.639" fill="rgb(67,12,1)"/>
<rect x="170.47" y="268.052" width="40.17" height="4.678" fill="rgb(6,3,2)"/>
<rect x="170.47" y="272.130" width="40.17" height="2.639" fill="rgb(7,167,7)"/>
<rect x="170.47" y="274.169" width="40.17" height="2.639" fill="rgb(6,3,2)"/>
<rect x="170.47" y="276.208" width="40.17" height="2.639" fill="rgb(4,104,4)"/>
<rect x="170.47" y="278.247" width="40.17" height="2.639" fill="rgb(190,34,3)"/>
<rect x="170.47" y="280.286" width="40.17" height="4.678" fill="rgb(6,3,2)"/>
<rect x="170.47" y="284.364" width="40.17" height="2.639" fill="rgb(2,37,2)"/>
<rect x="170.47" y="286.403" width="40.17" height="2.639" fill="rgb(6,3,2)"/>
<rect x="170.47" y="288.442" width="40.17" height="2.639" fill="rgb(7,167,7)"/>
<rect x="170.47" y="290.481" width="40.17" height="2.639" fill="rgb(4,104,4)"/>
<rect x="170.47" y="292.519" width="40.17" height="4.678" fill="rgb(7,167,7)"/>
<rect x="170.47" y="296.597" width="40.17" height="2.639" fill="rgb(6,3,2)"/>
<rect x="170.47" y="298.636" width="40.17" height="2.639" fill="rgb(7,167,7)"/>
<rect x="170.47" y="300.675" width="40.17" height="2.639" fill="rgb(6,3,2)"/>
<rect x="170.47" y="302.714" width="40.17" height="2.639" fill="rgb(238,42,4)"/>
<rect x="170.47" y="304.753" width="40.17" height="2.639" fill="rgb(67,12,1)"/>
<rect x="170.47" y="306.792" width="40.17" height="4.678" fill="rgb(6,3,2)"/>
<rect x="170.47" y="310.870" width="40.17" height="4.678" fill="rgb(4,104,4)"/>
<rect x="170.47" y="314.948" width="40.17" height="2.639" fill="rgb(7,167,7)"/>
<rect x="170.47" y="316.987" width="40.17" height="2.639" fill="rgb(6,3,2)"/>
<rect x="170.47" y="319.026" width="40.17" height="6.717" fill="rgb(7,167,7)"/>
<rect x="170.47" y="325.143" width="40.17" height="4.678" fill="rgb(4,104,4)"/>
<rect x="170.47" y="329.221" width="40.17" height="6.717" fill="rgb(7,167,7)"/>
<rect x="170.47" y="335.338" width="40.17" height="2.639" fill="rgb(4,104,4)"/>
<rect x="170.47" y="337.377" width="40.17" height="4.678" fill="rgb(7,167,7)"/>
<rect x="170.47" y="341.455" width="40.17" height="4.678" fill="rgb(131,23,2)"/>
<rect x="170.47" y="345.532" width="40.17" height="8.756" fill="rgb(7,167,7)"/>
<rect x="170.47" y="353.688" width="40.17" height="2.639" fill="rgb(67,12,1)"/>
<rect x="170.47" y="355.727" width="40.17" height="14.273" fill="rgb(10,232,10)"/>
<rect x="210.03" y="56.000" width="40.17" height="4.678" fill="rgb(238,42,4)"/>
<rect x="210.03" y="60.078" width="40.17" height="2.639" fill="rgb(131,23,2)"/>
<rect x="210.03" y="62.117" width="40.17" height="4.678" fill="rgb(6,3,2)"/>
<rect x="210.03" y="66.195" width="40.17" height="6.717" fill="rgb(238,42,4)"/>
<rect x="210.03" y="72.312" width="40.17" height="2.639" fill="rgb(67,12,1)"/>
<rect x="210.03" y="74.351" width="40.17" height="2.639" fill="rgb(7,167,7)"/>
<rect x="210.03" y="76.390" width="40.17" height="2.639" fill="rgb(2,37,2)"/>
<rect x="210.03" y="78.429" width="40.17" height="2.639" fill="rgb(190,34,3)"/>
<rect x="210.03" y="80.468" width="40.17" height="6.717" fill="rgb(238,42,4)"/>
<rect x="210.03" y="86.584" width="40.17" height="2.639" fill="rgb(131,23,2)"/>
<rect x="210.03" y="88.623" width="40.17" height="2.639" fill="rgb(67,12,1)"/>
<rect x="210.03" y="90.662" width="40.17" height="2.639" fill="rgb(6,3,2)"/>
<rect x="210.03" y="92.701" width="40.17" height="6.717" fill="rgb(238,42,4)"/>
<rect x="210.03" y="98.818" width="40.17" height="2.639" fill="rgb(190,34,3)"/>
<rect x="210.03" y="100.857" width="40.17" height="2.639" fill="rgb(67,12,1)"/>
<rect x="210.03" y="102.896" width="40.17" height="2.639" fill="rgb(190,34,3)"/>
<rect x="210.03" y="104.935" width="40.17" height="2.639" fill="rgb(67,12,1)"/>
<rect x="210.03" y="106.974" width="40.17" height="4.678" fill="rgb(6,3,2)"/>
<rect x="210.03" y="111.052" width="40.17" height="2.639" fill="rgb(190,34,3)"/>
<rect x="210.03" y="113.091" width="40.17" height="2.639" fill="rgb(67,12,1)"/>
<rect x="210.03" y="115.130" width="40.17" height="2.639" fill="rgb(6,3,2)"/>
<rect x="210.03" y="117.169" width="40.17" height="2.639" fill="rgb(190,34,3)"/>
<rect x="210.03" y="119.208" width="40.17" height="2.639" fill="rgb(6,3,2)"/>
<rect x="210.03" y="121.247" width="40.17" height="2.639" fill="rgb(2,37,2)"/>
<rect x="210.03" y="123.286" width="40.17" height="2.639" fill="rgb(67,12,1)"/>
<rect x="210.03" y="125.325" width="40.17" height="4.678" fill="rgb(238,42,4)"/>
<rect x="210.03" y="129.403" width="40.17" height="2.639" fill="rgb(131,23,2)"/>
<rect x="210.03" y="131.442" width="40.17" height="2.639" fill="rgb(6,3,2)"/>
<rect x="210.03" y="133.481" width="40.17" height="2.639" fill="rgb(67,12,1)"/>
<rect x="210.03" y="135.519" width="40.17" height="2.639" fill="rgb(6,3,2)"/>
<rect x="210.03" y="137.558" width="40.17" height="2.639" fill="rgb(7,167,7)"/>
<rect x="210.03" y="139.597" width="40.17" height="2.639" fill="rgb(6,3,2)"/>
<rect x="210.03" y="141.636" width="40.17" height="2.639" fill="rgb(7,167,7)"/>
<rect x="210.03" y="143.675" width="40.17" height="4.678" fill="rgb(6,3,2)"/>
<rect x="210.03" y="147.753" width="40.17" height="2.639" fill="rgb(190,34,3)"/>
<rect x="210.03" y="149.792" width="40.17" height="2.639" fill="rgb(6,3,2)"/>
<rect x="210.03" y="151.831" width="40.17" height="2.639" fill="rgb(2,37,2)"/>
<rect x="210.03" y="153.870" width="40.17" height="2.639" fill="rgb(6,3,2)"/>
<rect x="210.03" y="155.909" width="40.17" height="2.639" fill="rgb(190,34,3)"/>
<rect x="210.03" y="157.948" width="40.17" height="6.717" fill="rgb(67,12,1)"/>
<rect x="210.03" y="164.065" width="40.17" height="2.639" fill="rgb(131,23,2)"/>
<rect x="210.03" y="166.104" width="40.17" height="4.678" fill="rgb(238,42,4)"/>
<rect x="210.03" y="170.182" width="40.17" height="4.678" fill="rgb(6,3,2)"/>
<rect x="210.03" y="174.260" width="40.17" height="2.639" fill="rgb(4,104,4)"/>
<rect x="210.03" y="176.299" width="40.17" height="2.639" fill="rgb(6,3,2)"/>
<rect x="210.03" y="178.338" width="40.17" height="2.639" fill="rgb(190,34,3)"/>
<rect x="210.03" y="180.377" width="40.17" height="4.678" fill="rgb(6,3,2)"/>
<rect x="210.03" y="184.455" width="40.17" height="2.639" fill="rgb(2,37,2)"/>
<rect x="210.03" y="186.494" width="40.17" height="2.639" fill="rgb(7,167,7)"/>
<rect x="210.03" y="188.532" width="40.17" height="2.639" fill="rgb(6,3,2)"/>
<rect x="210.03" y="190.571" width="40.17" height="2.639" fill="rgb(131,23,2)"/>
<rect x="210.03" y="192.610" width="40.17" height="4.678" fill="rgb(7,167,7)"/>
<rect x="210.03" y="196.688" width="40.17" height="2.639" fill="rgb(2,37,2)"/>
<rect x="210.03" y="198.727" width="40.17" height="4.678" fill="rgb(6,3,2)"/>
<rect x="210.03" y="202.805" width="40.17" height="2.639" fill="rgb(4,104,4)"/>
<rect x="210.03" y="204.844" width="40.17" height="2.639" fill="rgb(6,3,2)"/>
<rect x="210.03" y="206.883" width="40.17" height="4.678" fill="rgb(2,37,2)"/>
<rect x="210.03" y="210.961" width="40.17" height="2.639" fill="rgb(6,3,2)"/>
<rect x="210.03" y="213.000" width="40.17" height="2.639" fill="rgb(67,12,1)"/>
<rect x="210.03" y="215.039" width="40.17" height="2.639" fill="rgb(6,3,2)"/>
<rect x="210.03" y="217.078" width="40.17" height="2.639" fill="rgb(190,34,3)"/>
<rect x="210.03" y="219.117" width="40.17" height="2.639" fill="rgb(238,42,4)"/>
<rect x="210.03" y="221.156" width="40.17" height="6.717" fill="rgb(2,37,2)"/>
<rect x="210.03" y="227.273" width="40.17" height="4.678" fill="rgb(67,12,1)"/>
<rect x="210.03" y="231.351" width="40.17" height="2.639" fill="rgb(4,104,4)"/>
<rect x="210.03" y="233.390" width="40.17" height="2.639" fill="rgb(67,12,1)"/>
<rect x="210.03" y="235.429" width="40.17" height="2.639" fill="rgb(6,3,2)"/>
<rect x="210.03" y="237.468" width="40.17" height="2.639" fill="rgb(4,104,4)"/>
<rect x="210.03" y="239.506" width="40.17" height="2.639" fill="rgb(6,3,2)"/>
<rect x="210.03" y="241.545" width="40.17" height="2.639" fill="rgb(238,42,4)"/>
<rect x="210.03" y="243.584" width="40.17" height="2.639" fill="rgb(6,3,2)"/>
<rect x="210.03" y="245.623" width="40.17" height="2.639" fill="rgb(7,167,7)"/>
<rect x="210.03" y="247.662" width="40.17" height="2.639" fill="rgb(6,3,2)"/>
<rect x="210.03" y="249.701" width="40.17" height="4.678" fill="rgb(4,104,4)"/>
<rect x="210.03" y="253.779" width="40.17" height="2.639" fill="rgb(6,3,2)"/>
<rect x="210.03" y="255.818" width="40.17" height="2.639" fill="rgb(7,167,7)"/>
<rect x="210.03" y="257.857" width="40.17" height="2.639" fill="rgb(6,3,2)"/>
<rect x="210.03" y="259.896" width="40.17" height="2.639" fill="rgb(131,23,2)"/>
<rect x="210.03" y="261.935" width="40.17" height="2.639" fill="rgb(7,167,7)"/>
<rect x="210.03" y="263.974" width="40.17" height="4.678" fill="rgb(67,12,1)"/>
<rect x="210.03" y="268.052" width="40.17" height="4.678" fill="rgb(6,3,2)"/>
<rect x="210.03" y="272.130" width="40.17" height="2.639" fill="rgb(238,42,4)"/>
<rect x="210.03" y="274.169" width="40.17" height="2.639" fill="rgb(6,3,2)"/>
<rect x="210.03" y="276.208" width="40.17" height="2.639" fill="rgb(2,37,2)"/>
<rect x="210.03" y="278.247" width="40.17" height="2.639" fill="rgb(6,3,2)"/>
<rect x="210.03" y="280.286" width="40.17" height="2.639" fill="rgb(7,167,7)"/>
<rect x="210.03" y="282.325" width="40.17" height="2.639" fill="rgb(4,104,4)"/>
<rect x="210.03" y="284.364" width="40.17" height="4.678" fill="rgb(67,12,1)"/>
<rect x="210.03" y="288.442" width="40.17" height="2.639" fill="rgb(131,23,2)"/>
<rect x="210.03" y="290.481" width="40.17" height="2.639" fill="rgb(190,34,3)"/>
<rect x="210.03" y="292.519" width="40.17" height="4.678" fill="rgb(67,12,1)"/>
<rect x="210.03" y="296.597" width="40.17" height="2.639" fill="rgb(6,3,2)"/>
<rect x="210.03" y="298.636" width="40.17" height="2.639" fill="rgb(131,23,2)"/>
<rect x="210.03" y="300.675" width="40.17" height="2.639" fill="rgb(67,12,1)"/>
<rect x="210.03" y="302.714" width="40.17" height="4.678" fill="rgb(10,232,10)"/>
<rect x="210.03" y="306.792" width="40.17" height="2.639" fill="rgb(6,3,2)"/>
<rect x="210.03" y="308.831" width="40.17" height="6.717" fill="rgb(7,167,7)"/>
<rect x="210.03" y="314.948" width="40.17" height="2.639" fill="rgb(6,3,2)"/>
<rect x="210.03" y="316.987" width="40.17" height="6.717" fill="rgb(7,167,7)"/>
<rect x="210.03" y="323.104" width="40.17" height="2.639" fill="rgb(67,12,1)"/>
<rect x="210.03" y="325.143" width="40.17" height="2.639" fill="rgb(6,3,2)"/>
<rect x="210.03" y="327.182" width="40.17" height="2.639" fill="rgb(4,104,4)"/>
<rect x="210.03" y="329.221" width="40.17" height="2.639" fill="rgb(6,3,2)"/>
<rect x="210.03" y="331.260" width="40.17" height="6.717" fill="rgb(7,167,7)"/>
<rect x="210.03" y="337.377" width="40.17" height="4.678" fill="rgb(4,104,4)"/>
<rect x="210.03" y="341.455" width="40.17" height="4.678" fill="rgb(7,167,7)"/>
<rect x="210.03" y="345.532" width="40.17" height="2.639" fill="rgb(2,37,2)"/>
<rect x="210.03" y="347.571" width="40.17" height="2.639" fill="rgb(4,104,4)"/>
<rect x="210.03" y="349.610" width="40.17" height="2.639" fill="rgb(2,37,2)"/>
<rect x="210.03" y="351.649" width="40.17" height="18.351" fill="rgb(7,167,7)"/>
<rect x="249.60" y="56.000" width="40.17" height="2.639" fill="rgb(4,104,4)"/>
<rect x="249.60" y="58.039" width="40.17" height="6.717" fill="rgb(7,167,7)"/>
<rect x="249.60" y="64.156" width="40.17" height="2.639" fill="rgb(4,104,4)"/>
<rect x="249.60" y="66.195" width="40.17" height="2.639" fill="rgb(6,3,2)"/>
<rect x="249.60" y="68.234" width="40.17" height="6.717" fill="rgb(2,37,2)"/>
<rect x="249.60" y="74.351" width="40.17" height="2.639" fill="rgb(7,167,7)"/>
<rect x="249.60" y="76.390" width="40.17" height="2.639" fill="rgb(2,37,2)"/>
<rect x="249.60" y="78.429" width="40.17" height="6.717" fill="rgb(4,104,4)"/>
<rect x="249.60" y="84.545" width="40.17" height="2.639" fill="rgb(6,3,2)"/>
<rect x="249.60" y="86.584" width="40.17" height="4.678" fill="rgb(4,104,4)"/>
<rect x="249.60" y="90.662" width="40.17" height="4.678" fill="rgb(67,12,1)"/>
<rect x="249.60" y="94.740" width="40.17" height="2.639" fill="rgb(6,3,2)"/>
<rect x="249.60" y="96.779" width="40.17" height="2.639" fill="rgb(7,167,7)"/>
<rect x="249.60" y="98.818" width="40.17" height="2.639" fill="rgb(6,3,2)"/>
<rect x="249.60" y="100.857" width="40.17" height="2.639" fill="rgb(7,167,7)"/>
<rect x="249.60" y="102.896" width="40.17" height="4.678" fill="rgb(67,12,1)"/>
<rect x="249.60" y="106.974" width="40.17" height="2.639" fill="rgb(6,3,2)"/>
<rect x="249.60" y="109.013" width="40.17" height="2.639" fill="rgb(7,167,7)"/>
<rect x="249.60" y="111.052" width="40.17" height="4.678" fill="rgb(6,3,2)"/>
<rect x="249.60" y="115.130" width="40.17" height="2.639" fill="rgb(7,167,7)"/>
<rect x="249.60" y="117.169" width="40.17" height="2.639" fill="rgb(2,37,2)"/>
<rect x="249.60" y="119.208" width="40.17" height="2.639" fill="rgb(4,104,4)"/>
<rect x="249.60" y="121.247" width="40.17" height="2.639" fill="rgb(2,37,2)"/>
<rect x="249.60" y="123.286" width="40.17" height="2.639" fill="rgb(7,167,7)"/>
<rect x="249.60" y="125.325" width="40.17" height="2.639" fill="rgb(6,3,2)"/>
<rect x="249.60" y="127.364" width="40.17" height="4.678" fill="rgb(2,37,2)"/>
<rect x="249.60" y="131.442" width="40.17" height="2.639" fill="rgb(6,3,2)"/>
<rect x="249.60" y="133.481" width="40.17" height="2.639" fill="rgb(2,37,2)"/>
<rect x="249.60" y="135.519" width="40.17" height="2.639" fill="rgb(4,104,4)"/>
<rect x="249.60" y="137.558" width="40.17" height="4.678" fill="rgb(6,3,2)"/>
<rect x="249.60" y="141.636" width="40.17" height="4.678" fill="rgb(4,104,4)"/>
<rect x="249.60" y="145.714" width="40.17" height="2.639" fill="rgb(6,3,2)"/>
<rect x="249.60" y="147.753" width="40.17" height="2.639" fill="rgb(190,34,3)"/>
<rect x="249.60" y="149.792" width="40.17" height="4.678" fill="rgb(2,37,2)"/>
<rect x="249.60" y="153.870" width="40.17" height="2.639" fill="rgb(6,3,2)"/>
<rect x="249.60" y="155.909" width="40.17" height="2.639" fill="rgb(131,23,2)"/>
<rect x="249.60" y="157.948" width="40.17" height="2.639" fill="rgb(6,3,2)"/>
<rect x="249.60" y="159.987" width="40.17" height="2.639" fill="rgb(67,12,1)"/>
<rect x="249.60" y="162.026" width="40.17" height="4.678" fill="rgb(2,37,2)"/>
<rect x="249.60" y="166.104" width="40.17" height="2.639" fill="rgb(131,23,2)"/>
<rect x="249.60" y="168.143" width="40.17" height="2.639" fill="rgb(2,37,2)"/>
<rect x="249.60" y="170.182" width="40.17" height="4.678" fill="rgb(6,3,2)"/>
<rect x="249.60" y="174.260" width="40.17" height="4.678" fill="rgb(2,37,2)"/>
<rect x="249.60" y="178.338" width="40.17" height="2.639" fill="rgb(67,12,1)"/>
<rect x="249.60" y="180.377" width="40.17" height="2.639" fill="rgb(6,3,2)"/>
<rect x="249.60" y="182.416" width="40.17" height="2.639" fill="rgb(67,12,1)"/>
<rect x="249.60" y="184.455" width="40.17" height="2.639" fill="rgb(6,3,2)"/>
<rect x="249.60" y="186.494" width="40.17" height="2.639" fill="rgb(190,34,3)"/>
<rect x="249.60" y="188.532" width="40.17" height="2.639" fill="rgb(6,3,2)"/>
<rect x="249.60" y="190.571" width="40.17" height="2.639" fill="rgb(67,12,1)"/>
<rect x="249.60" y="192.610" width="40.17" height="2.639" fill="rgb(6,3,2)"/>
<rect x="249.60" y="194.649" width="40.17" height="2.639" fill="rgb(190,34,3)"/>
<rect x="249.60" y="196.688" width="40.17" height="2.639" fill="rgb(238,42,4)"/>
<rect x="249.60" y="198.727" width="40.17" height="2.639" fill="rgb(67,12,1)"/>
<rect x="249.60" y="200.766" width="40.17" height="2.639" fill="rgb(6,3,2)"/>
<rect x="249.60" y="202.805" width="40.17" height="2.639" fill="rgb(2,37,2)"/>
<rect x="249.60" y="204.844" width="40.17" height="2.639" fill="rgb(67,12,1)"/>
<rect x="249.60" y="206.883" width="40.17" height="2.639" fill="rgb(6,3,2)"/>
<rect x="249.60" y="208.922" width="40.17" height="2.639" fill="rgb(2,37,2)"/>
<rect x="249.60" y="210.961" width="40.17" height="4.678" fill="rgb(6,3,2)"/>
<rect x="249.60" y="215.039" width="40.17" height="6.717" fill="rgb(67,12,1)"/>
<rect x="249.60" y="221.156" width="40.17" height="2.639" fill="rgb(4,104,4)"/>
<rect x="249.60" y="223.195" width="40.17" height="8.756" fill="rgb(6,3,2)"/>
<rect x="249.60" y="231.351" width="40.17" height="2.639" fill="rgb(190,34,3)"/>
<rect x="249.60" y="233.390" width="40.17" height="2.639" fill="rgb(6,3,2)"/>
<rect x="249.60" y="235.429" width="40.17" height="2.639" fill="rgb(131,23,2)"/>
<rect x="249.60" y="237.468" width="40.17" height="2.639" fill="rgb(6,3,2)"/>
<rect x="249.60" y="239.506" width="40.17" height="2.639" fill="rgb(2,37,2)"/>
<rect x="249.60" y="241.545" width="40.17" height="4.678" fill="rgb(238,42,4)"/>
<rect x="249.60" y="245.623" width="40.17" height="10.795" fill="rgb(6,3,2)"/>
<rect x="249.60" y="255.818" width="40.17" height="2.639" fill="rgb(190,34,3)"/>
<rect x="249.60" y="257.857" width="40.17" height="2.639" fill="rgb(6,3,2)"/>
<rect x="249.60" y="259.896" width="40.17" height="2.639" fill="rgb(131,23,2)"/>
<rect x="249.60" y="261.935" width="40.17" height="2.639" fill="rgb(6,3,2)"/>
<rect x="249.60" y="263.974" width="40.17" height="6.717" fill="rgb(67,12,1)"/>
<rect x="249.60" y="270.091" width="40.17" height="2.639" fill="rgb(6,3,2)"/>
<rect x="249.60" y="272.130" width="40.17" height="4.678" fill="rgb(238,42,4)"/>
<rect x="249.60" y="276.208" width="40.17" height="4.678" fill="rgb(6,3,2)"/>
<rect x="249.60" y="280.286" width="40.17" height="2.639" fill="rgb(131,23,2)"/>
<rect x="249.60" y="282.325" width="40.17" height="2.639" fill="rgb(6,3,2)"/>
<rect x="249.60" y="284.364" width="40.17" height="4.678" fill="rgb(238,42,4)"/>
<rect x="249.60" y="288.442" width="40.17" height="2.639" fill="rgb(6,3,2)"/>
<rect x="249.60" y="290.481" width="40.17" height="4.678" fill="rgb(238,42,4)"/>
<rect x="249.60" y="294.558" width="40.17" height="2.639" fill="rgb(67,12,1)"/>
<rect x="249.60" y="296.597" width="40.17" height="2.639" fill="rgb(6,3,2)"/>
<rect x="249.60" y="298.636" width="40.17" height="2.639" fill="rgb(190,34,3)"/>
<rect x="249.60" y="300.675" width="40.17" height="2.639" fill="rgb(67,12,1)"/>
<rect x="249.60" y="302.714" width="40.17" height="2.639" fill="rgb(6,3,2)"/>
<rect x="249.60" y="304.753" width="40.17" height="4.678" fill="rgb(238,42,4)"/>
<rect x="249.60" y="308.831" width="40.17" height="2.639" fill="rgb(67,12,1)"/>
<rect x="249.60" y="310.870" width="40.17" height="4.678" fill="rgb(6,3,2)"/>
<rect x="249.60" y="314.948" width="40.17" height="4.678" fill="rgb(7,167,7)"/>
<rect x="249.60" y="319.026" width="40.17" height="2.639" fill="rgb(6,3,2)"/>
<rect x="249.60" y="321.065" width="40.17" height="2.639" fill="rgb(131,23,2)"/>
<rect x="249.60" y="323.104" width="40.17" height="4.678" fill="rgb(238,42,4)"/>
<rect x="249.60" y="327.182" width="40.17" height="6.717" fill="rgb(6,3,2)"/>
<rect x="249.60" y="333.299" width="40.17" height="4.678" fill="rgb(2,37,2)"/>
<rect x="249.60" y="337.377" width="40.17" height="2.639" fill="rgb(67,12,1)"/>
<rect x="249.60" y="339.416" width="40.17" height="2.639" fill="rgb(190,34,3)"/>
<rect x="249.60" y="341.455" width="40.17" height="2.639" fill="rgb(238,42,4)"/>
<rect x="249.60" y="343.494" width="40.17" height="2.639" fill="rgb(6,3,2)"/>
<rect x="249.60" y="345.532" width="40.17" height="4.678" fill="rgb(67,12,1)"/>
<rect x="249.60" y="349.610" width="40.17" height="4.678" fill="rgb(6,3,2)"/>
<rect x="249.60" y="353.688" width="40.17" height="2.639" fill="rgb(238,42,4)"/>
<rect x="249.60" y="355.727" width="40.17" height="2.639" fill="rgb(190,34,3)"/>
<rect x="249.60" y="357.766" width="40.17" height="2.639" fill="rgb(238,42,4)"/>
<rect x="249.60" y="359.805" width="40.17" height="2.639" fill="rgb(6,3,2)"/>
<rect x="249.60" y="361.844" width="40.17" height="8.156" fill="rgb(238,42,4)"/>
<rect x="289.17" y="56.000" width="40.17" height="2.639" fill="rgb(2,37,2)"/>
<rect x="289.17" y="58.039" width="40.17" height="2.639" fill="rgb(6,3,2)"/>
<rect x="289.17" y="60.078" width="40.17" height="6.717" fill="rgb(10,232,10)"/>
<rect x="289.17" y="66.195" width="40.17" height="2.639" fill="rgb(6,3,2)"/>
<rect x="289.17" y="68.234" width="40.17" height="2.639" fill="rgb(7,167,7)"/>
<rect x="289.17" y="70.273" width="40.17" height="2.639" fill="rgb(6,3,2)"/>
<rect x="289.17" y="72.312" width="40.17" height="4.678" fill="rgb(10,232,10)"/>
<rect x="289.17" y="76.390" width="40.17" height="4.678" fill="rgb(7,167,7)"/>
<rect x="289.17" y="80.468" width="40.17" height="6.717" fill="rgb(67,12,1)"/>
<rect x="289.17" y="86.584" width="40.17" height="2.639" fill="rgb(4,104,4)"/>
<rect x="289.17" y="88.623" width="40.17" height="4.678" fill="rgb(7,167,7)"/>
<rect x="289.17" y="92.701" width="40.17" height="2.639" fill="rgb(6,3,2)"/>
<rect x="289.17" y="94.740" width="40.17" height="4.678" fill="rgb(7,167,7)"/>
<rect x="289.17" y="98.818" width="40.17" height="2.639" fill="rgb(6,3,2)"/>
<rect x="289.17" y="100.857" width="40.17" height="2.639" fill="rgb(7,167,7)"/>
<rect x="289.17" y="102.896" width="40.17" height="2.639" fill="rgb(6,3,2)"/>
<rect x="289.17" y="104.935" width="40.17" height="2.639" fill="rgb(7,167,7)"/>
<rect x="289.17" y="106.974" width="40.17" height="4.678" fill="rgb(6,3,2)"/>
<rect x="289.17" y="111.052" width="40.17" height="2.639" fill="rgb(67,12,1)"/>
<rect x="289.17" y="113.091" width="40.17" height="4.678" fill="rgb(7,167,7)"/>
<rect x="289.17" y="117.169" width="40.17" height="2.639" fill="rgb(6,3,2)"/>
<rect x="289.17" y="119.208" width="40.17" height="2.639" fill="rgb(67,12,1)"/>
<rect x="289.17" y="121.247" width="40.17" height="2.639" fill="rgb(6,3,2)"/>
<rect x="289.17" y="123.286" width="40.17" height="4.678" fill="rgb(7,167,7)"/>
<rect x="289.17" y="127.364" width="40.17" height="2.639" fill="rgb(6,3,2)"/>
<rect x="289.17" y="129.403" width="40.17" height="2.639" fill="rgb(4,104,4)"/>
<rect x="289.17" y="131.442" width="40.17" height="2.639" fill="rgb(6,3,2)"/>
<rect x="289.17" y="133.481" width="40.17" height="4.678" fill="rgb(2,37,2)"/>
<rect x="289.17" y="137.558" width="40.17" height="2.639" fill="rgb(10,232,10)"/>
<rect x="289.17" y="139.597" width="40.17" height="2.639" fill="rgb(6,3,2)"/>
<rect x="289.17" y="141.636" width="40.17" height="4.678" fill="rgb(10,232,10)"/>
<rect x="289.17" y="145.714" width="40.17" height="2.639" fill="rgb(7,167,7)"/>
<rect x="289.17" y="147.753" width="40.17" height="2.639" fill="rgb(6,3,2)"/>
<rect x="289.17" y="149.792" width="40.17" height="4.678" fill="rgb(7,167,7)"/>
<rect x="289.17" y="153.870" width="40.17" height="6.717" fill="rgb(6,3,2)"/>
<rect x="289.17" y="159.987" width="40.17" height="2.639" fill="rgb(7,167,7)"/>
<rect x="289.17" y="162.026" width="40.17" height="2.639" fill="rgb(6,3,2)"/>
<rect x="289.17" y="164.065" width="40.17" height="2.639" fill="rgb(67,12,1)"/>
<rect x="289.17" y="166.104" width="40.17" height="4.678" fill="rgb(2,37,2)"/>
<rect x="289.17" y="170.182" width="40.17" height="8.756" fill="rgb(7,167,7)"/>
<rect x="289.17" y="178.338" width="40.17" height="2.639" fill="rgb(131,23,2)"/>
<rect x="289.17" y="180.377" width="40.17" height="4.678" fill="rgb(190,34,3)"/>
<rect x="289.17" y="184.455" width="40.17" height="2.639" fill="rgb(6,3,2)"/>
<rect x="289.17" y="186.494" width="40.17" height="2.639" fill="rgb(2,37,2)"/>
<rect x="289.17" y="188.532" width="40.17" height="2.639" fill="rgb(6,3,2)"/>
<rect x="289.17" y="190.571" width="40.17" height="2.639" fill="rgb(131,23,2)"/>
<rect x="289.17" y="192.610" width="40.17" height="2.639" fill="rgb(6,3,2)"/>
<rect x="289.17" y="194.649" width="40.17" height="4.678" fill="rgb(7,167,7)"/>
<rect x="289.17" y="198.727" width="40.17" height="2.639" fill="rgb(2,37,2)"/>
<rect x="289.17" y="200.766" width="40.17" height="2.639" fill="rgb(67,12,1)"/>
<rect x="289.17" y="202.805" width="40.17" height="2.639" fill="rgb(190,34,3)"/>
<rect x="289.17" y="204.844" width="40.17" height="2.639" fill="rgb(6,3,2)"/>
<rect x="289.17" y="206.883" width="40.17" height="4.678" fill="rgb(2,37,2)"/>
<rect x="289.17" y="210.961" width="40.17" height="2.639" fill="rgb(6,3,2)"/>
<rect x="289.17" y="213.000" width="40.17" height="2.639" fill="rgb(131,23,2)"/>
<rect x="289.17" y="215.039" width="40.17" height="2.639" fill="rgb(67,12,1)"/>
<rect x="289.17" y="217.078" width="40.17" height="2.639" fill="rgb(190,34,3)"/>
<rect x="289.17" y="219.117" width="40.17" height="2.639" fill="rgb(131,23,2)"/>
<rect x="289.17" y="221.156" width="40.17" height="4.678" fill="rgb(7,167,7)"/>
<rect x="289.17" y="225.234" width="40.17" height="4.678" fill="rgb(67,12,1)"/>
<rect x="289.17" y="229.312" width="40.17" height="2.639" fill="rgb(6,3,2)"/>
<rect x="289.17" y="231.351" width="40.17" height="2.639" fill="rgb(7,167,7)"/>
<rect x="289.17" y="233.390" width="40.17" height="2.639" fill="rgb(6,3,2)"/>
<rect x="289.17" y="235.429" width="40.17" height="2.639" fill="rgb(190,34,3)"/>
<rect x="289.17" y="237.468" width="40.17" height="2.639" fill="rgb(6,3,2)"/>
<rect x="289.17" y="239.506" width="40.17" height="2.639" fill="rgb(2,37,2)"/>
<rect x="289.17" y="241.545" width="40.17" height="2.639" fill="rgb(6,3,2)"/>
<rect x="289.17" y="243.584" width="40.17" height="4.678" fill="rgb(67,12,1)"/>
<rect x="289.17" y="247.662" width="40.17" height="6.717" fill="rgb(6,3,2)"/>
<rect x="289.17" y="253.779" width="40.17" height="2.639" fill="rgb(190,34,3)"/>
<rect x="289.17" y="255.818" width="40.17" height="2.639" fill="rgb(6,3,2)"/>
<rect x="289.17" y="257.857" width="40.17" height="2.639" fill="rgb(2,37,2)"/>
<rect x="289.17" y="259.896" width="40.17" height="2.639" fill="rgb(4,104,4)"/>
<rect x="289.17" y="261.935" width="40.17" height="2.639" fill="rgb(67,12,1)"/>
<rect x="289.17" y="263.974" width="40.17" height="2.639" fill="rgb(6,3,2)"/>
<rect x="289.17" y="266.013" width="40.17" height="2.639" fill="rgb(190,34,3)"/>
<rect x="289.17" y="268.052" width="40.17" height="4.678" fill="rgb(131,23,2)"/>
<rect x="289.17" y="272.130" width="40.17" height="2.639" fill="rgb(6,3,2)"/>
<rect x="289.17" y="274.169" width="40.17" height="2.639" fill="rgb(67,12,1)"/>
<rect x="289.17" y="276.208" width="40.17" height="2.639" fill="rgb(2,37,2)"/>
<rect x="289.17" y="278.247" width="40.17" height="2.639" fill="rgb(131,23,2)"/>
<rect x="289.17" y="280.286" width="40.17" height="4.678" fill="rgb(2,37,2)"/>
<rect x="289.17" y="284.364" width="40.17" height="4.678" fill="rgb(238,42,4)"/>
<rect x="289.17" y="288.442" width="40.17" height="2.639" fill="rgb(6,3,2)"/>
<rect x="289.17" y="290.481" width="40.17" height="4.678" fill="rgb(190,34,3)"/>
<rect x="289.17" y="294.558" width="40.17" height="2.639" fill="rgb(2,37,2)"/>
<rect x="289.17" y="296.597" width="40.17" height="4.678" fill="rgb(131,23,2)"/>
<rect x="289.17" y="300.675" width="40.17" height="2.639" fill="rgb(67,12,1)"/>
<rect x="289.17" y="302.714" width="40.17" height="4.678" fill="rgb(6,3,2)"/>
<rect x="289.17" y="306.792" width="40.17" height="2.639" fill="rgb(131,23,2)"/>
<rect x="289.17" y="308.831" width="40.17" height="2.639" fill="rgb(190,34,3)"/>
<rect x="289.17" y="310.870" width="40.17" height="2.639" fill="rgb(6,3,2)"/>
<rect x="289.17" y="312.909" width="40.17" height="2.639" fill="rgb(7,167,7)"/>
<rect x="289.17" y="314.948" width="40.17" height="4.678" fill="rgb(131,23,2)"/>
<rect x="289.17" y="319.026" width="40.17" height="2.639" fill="rgb(6,3,2)"/>
<rect x="289.17" y="321.065" width="40.17" height="2.639" fill="rgb(131,23,2)"/>
<rect x="289.17" y="323.104" width="40.17" height="2.639" fill="rgb(238,42,4)"/>
<rect x="289.17" y="325.143" width="40.17" height="2.639" fill="rgb(190,34,3)"/>
<rect x="289.17" y="327.182" width="40.17" height="2.639" fill="rgb(6,3,2)"/>
<rect x="289.17" y="329.221" width="40.17" height="2.639" fill="rgb(67,12,1)"/>
<rect x="289.17" y="331.260" width="40.17" height="2.639" fill="rgb(131,23,2)"/>
<rect x="289.17" y="333.299" width="40.17" height="2.639" fill="rgb(6,3,2)"/>
<rect x="289.17" y="335.338" width="40.17" height="2.639" fill="rgb(7,167,7)"/>
<rect x="289.17" y="337.377" width="40.17" height="2.639" fill="rgb(6,3,2)"/>
<rect x="289.17" y="339.416" width="40.17" height="2.639" fill="rgb(131,23,2)"/>
<rect x="289.17" y="341.455" width="40.17" height="2.639" fill="rgb(190,34,3)"/>
<rect x="289.17" y="343.494" width="40.17" height="2.639" fill="rgb(131,23,2)"/>
<rect x="289.17" y="345.532" width="40.17" height="2.639" fill="rgb(6,3,2)"/>
<rect x="289.17" y="347.571" width="40.17" height="2.639" fill="rgb(67,12,1)"/>
<rect x="289.17" y="349.610" width="40.17" height="4.678" fill="rgb(131,23,2)"/>
<rect x="289.17" y="353.688" width="40.17" height="4.678" fill="rgb(238,42,4)"/>
<rect x="289.17" y="357.766" width="40.17" height="2.639" fill="rgb(67,12,1)"/>
<rect x="289.17" y="359.805" width="40.17" height="4.678" fill="rgb(238,42,4)"/>
<rect x="289.17" y="363.883" width="40.17" height="2.639" fill="rgb(6,3,2)"/>
<rect x="289.17" y="365.922" width="40.17" height="2.639" fill="rgb(67,12,1)"/>
<rect x="289.17" y="367.961" width="40.17" height="2.039" fill="rgb(238,42,4)"/>
<rect x="328.73" y="56.000" width="40.17" height="10.795" fill="rgb(7,167,7)"/>
<rect x="328.73" y="66.195" width="40.17" height="4.678" fill="rgb(6,3,2)"/>
<rect x="328.73" y="70.273" width="40.17" height="2.639" fill="rgb(2,37,2)"/>
<rect x="328.73" y="72.312" width="40.17" height="2.639" fill="rgb(7,167,7)"/>
<rect x="328.73" y="74.351" width="40.17" height="2.639" fill="rgb(2,37,2)"/>
<rect x="328.73" y="76.390" width="40.17" height="4.678" fill="rgb(7,167,7)"/>
<rect x="328.73" y="80.468" width="40.17" height="4.678" fill="rgb(6,3,2)"/>
<rect x="328.73" y="84.545" width="40.17" height="6.717" fill="rgb(7,167,7)"/>
<rect x="328.73" y="90.662" width="40.17" height="2.639" fill="rgb(4,104,4)"/>
<rect x="328.73" y="92.701" width="40.17" height="2.639" fill="rgb(6,3,2)"/>
<rect x="328.73" y="94.740" width="40.17" height="2.639" fill="rgb(4,104,4)"/>
<rect x="328.73" y="96.779" width="40.17" height="2.639" fill="rgb(7,167,7)"/>
<rect x="328.73" y="98.818" width="40.17" height="2.639" fill="rgb(67,12,1)"/>
<rect x="328.73" y="100.857" width="40.17" height="2.639" fill="rgb(2,37,2)"/>
<rect x="328.73" y="102.896" width="40.17" height="2.639" fill="rgb(4,104,4)"/>
<rect x="328.73" y="104.935" width="40.17" height="6.717" fill="rgb(7,167,7)"/>
<rect x="328.73" y="111.052" width="40.17" height="2.639" fill="rgb(2,37,2)"/>
<rect x="328.73" y="113.091" width="40.17" height="4.678" fill="rgb(7,167,7)"/>
<rect x="328.73" y="117.169" width="40.17" height="2.639" fill="rgb(2,37,2)"/>
<rect x="328.73" y="119.208" width="40.17" height="4.678" fill="rgb(7,167,7)"/>
<rect x="328.73" y="123.286" width="40.17" height="2.639" fill="rgb(2,37,2)"/>
<rect x="328.73" y="125.325" width="40.17" height="4.678" fill="rgb(6,3,2)"/>
<rect x="328.73" y="129.403" width="40.17" height="2.639" fill="rgb(7,167,7)"/>
<rect x="328.73" y="131.442" width="40.17" height="2.639" fill="rgb(6,3,2)"/>
<rect x="328.73" y="133.481" width="40.17" height="2.639" fill="rgb(190,34,3)"/>
<rect x="328.73" y="135.519" width="40.17" height="4.678" fill="rgb(4,104,4)"/>
<rect x="328.73" y="139.597" width="40.17" height="2.639" fill="rgb(7,167,7)"/>
<rect x="328.73" y="141.636" width="40.17" height="4.678" fill="rgb(131,23,2)"/>
<rect x="328.73" y="145.714" width="40.17" height="2.639" fill="rgb(67,12,1)"/>
<rect x="328.73" y="147.753" width="40.17" height="2.639" fill="rgb(6,3,2)"/>
<rect x="328.73" y="149.792" width="40.17" height="4.678" fill="rgb(7,167,7)"/>
<rect x="328.73" y="153.870" width="40.17" height="4.678" fill="rgb(6,3,2)"/>
<rect x="328.73" y="157.948" width="40.17" height="2.639" fill="rgb(190,34,3)"/>
<rect x="328.73" y="159.987" width="40.17" height="2.639" fill="rgb(131,23,2)"/>
<rect x="328.73" y="162.026" width="40.17" height="2.639" fill="rgb(7,167,7)"/>
<rect x="328.73" y="164.065" width="40.17" height="2.639" fill="rgb(190,34,3)"/>
<rect x="328.73" y="166.104" width="40.17" height="2.639" fill="rgb(6,3,2)"/>
<rect x="328.73" y="168.143" width="40.17" height="2.639" fill="rgb(7,167,7)"/>
<rect x="328.73" y="170.182" width="40.17" height="2.639" fill="rgb(67,12,1)"/>
<rect x="328.73" y="172.221" width="40.17" height="2.639" fill="rgb(6,3,2)"/>
<rect x="328.73" y="174.260" width="40.17" height="2.639" fill="rgb(2,37,2)"/>
<rect x="328.73" y="176.299" width="40.17" height="2.639" fill="rgb(67,12,1)"/>
<rect x="328.73" y="178.338" width="40.17" height="2.639" fill="rgb(6,3,2)"/>
<rect x="328.73" y="180.377" width="40.17" height="4.678" fill="rgb(7,167,7)"/>
<rect x="328.73" y="184.455" width="40.17" height="2.639" fill="rgb(6,3,2)"/>
<rect x="328.73" y="186.494" width="40.17" height="2.639" fill="rgb(4,104,4)"/>
<rect x="328.73" y="188.532" width="40.17" height="2.639" fill="rgb(6,3,2)"/>
<rect x="328.73" y="190.571" width="40.17" height="2.639" fill="rgb(67,12,1)"/>
<rect x="328.73" y="192.610" width="40.17" height="2.639" fill="rgb(4,104,4)"/>
<rect x="328.73" y="194.649" width="40.17" height="4.678" fill="rgb(10,232,10)"/>
<rect x="328.73" y="198.727" width="40.17" height="2.639" fill="rgb(67,12,1)"/>
<rect x="328.73" y="200.766" width="40.17" height="2.639" fill="rgb(7,167,7)"/>
<rect x="328.73" y="202.805" width="40.17" height="2.639" fill="rgb(10,232,10)"/>
<rect x="328.73" y="204.844" width="40.17" height="2.639" fill="rgb(4,104,4)"/>
<rect x="328.73" y="206.883" width="40.17" height="4.678" fill="rgb(6,3,2)"/>
<rect x="328.73" y="210.961" width="40.17" height="2.639" fill="rgb(2,37,2)"/>
<rect x="328.73" y="213.000" width="40.17" height="2.639" fill="rgb(6,3,2)"/>
<rect x="328.73" y="215.039" width="40.17" height="2.639" fill="rgb(67,12,1)"/>
<rect x="328.73" y="217.078" width="40.17" height="2.639" fill="rgb(6,3,2)"/>
<rect x="328.73" y="219.117" width="40.17" height="2.639" fill="rgb(67,12,1)"/>
<rect x="328.73" y="221.156" width="40.17" height="4.678" fill="rgb(7,167,7)"/>
<rect x="328.73" y="225.234" width="40.17" height="6.717" fill="rgb(6,3,2)"/>
<rect x="328.73" y="231.351" width="40.17" height="2.639" fill="rgb(4,104,4)"/>
<rect x="328.73" y="233.390" width="40.17" height="2.639" fill="rgb(131,23,2)"/>
<rect x="328.73" y="235.429" width="40.17" height="2.639" fill="rgb(67,12,1)"/>
<rect x="328.73" y="237.468" width="40.17" height="2.639" fill="rgb(6,3,2)"/>
<rect x="328.73" y="239.506" width="40.17" height="2.639" fill="rgb(2,37,2)"/>
<rect x="328.73" y="241.545" width="40.17" height="4.678" fill="rgb(7,167,7)"/>
<rect x="328.73" y="245.623" width="40.17" height="4.678" fill="rgb(6,3,2)"/>
<rect x="328.73" y="249.701" width="40.17" height="2.639" fill="rgb(131,23,2)"/>
<rect x="328.73" y="251.740" width="40.17" height="4.678" fill="rgb(6,3,2)"/>
<rect x="328.73" y="255.818" width="40.17" height="2.639" fill="rgb(4,104,4)"/>
<rect x="328.73" y="257.857" width="40.17" height="2.639" fill="rgb(67,12,1)"/>
<rect x="328.73" y="259.896" width="40.17" height="2.639" fill="rgb(7,167,7)"/>
<rect x="328.73" y="261.935" width="40.17" height="2.639" fill="rgb(190,34,3)"/>
<rect x="328.73" y="263.974" width="40.17" height="6.717" fill="rgb(6,3,2)"/>
<rect x="328.73" y="270.091" width="40.17" height="2.639" fill="rgb(190,34,3)"/>
<rect x="328.73" y="272.130" width="40.17" height="2.639" fill="rgb(7,167,7)"/>
<rect x="328.73" y="274.169" width="40.17" height="4.678" fill="rgb(6,3,2)"/>
<rect x="328.73" y="278.247" width="40.17" height="2.639" fill="rgb(238,42,4)"/>
<rect x="328.73" y="280.286" width="40.17" height="2.639" fill="rgb(6,3,2)"/>
<rect x="328.73" y="282.325" width="40.17" height="2.639" fill="rgb(2,37,2)"/>
<rect x="328.73" y="284.364" width="40.17" height="2.639" fill="rgb(6,3,2)"/>
<rect x="328.73" y="286.403" width="40.17" height="2.639" fill="rgb(7,167,7)"/>
<rect x="328.73" y="288.442" width="40.17" height="2.639" fill="rgb(67,12,1)"/>
<rect x="328.73" y="290.481" width="40.17" height="2.639" fill="rgb(2,37,2)"/>
<rect x="328.73" y="292.519" width="40.17" height="4.678" fill="rgb(67,12,1)"/>
<rect x="328.73" y="296.597" width="40.17" height="2.639" fill="rgb(6,3,2)"/>
<rect x="328.73" y="298.636" width="40.17" height="4.678" fill="rgb(67,12,1)"/>
<rect x="328.73" y="302.714" width="40.17" height="4.678" fill="rgb(7,167,7)"/>
<rect x="328.73" y="306.792" width="40.17" height="2.639" fill="rgb(4,104,4)"/>
<rect x="328.73" y="308.831" width="40.17" height="2.639" fill="rgb(6,3,2)"/>
<rect x="328.73" y="310.870" width="40.17" height="2.639" fill="rgb(7,167,7)"/>
<rect x="328.73" y="312.909" width="40.17" height="4.678" fill="rgb(67,12,1)"/>
<rect x="328.73" y="316.987" width="40.17" height="4.678" fill="rgb(131,23,2)"/>
<rect x="328.73" y="321.065" width="40.17" height="2.639" fill="rgb(6,3,2)"/>
<rect x="328.73" y="323.104" width="40.17" height="4.678" fill="rgb(67,12,1)"/>
<rect x="328.73" y="327.182" width="40.17" height="4.678" fill="rgb(190,34,3)"/>
<rect x="328.73" y="331.260" width="40.17" height="6.717" fill="rgb(7,167,7)"/>
<rect x="328.73" y="337.377" width="40.17" height="2.639" fill="rgb(6,3,2)"/>
<rect x="328.73" y="339.416" width="40.17" height="2.639" fill="rgb(67,12,1)"/>
<rect x="328.73" y="341.455" width="40.17" height="2.639" fill="rgb(10,232,10)"/>
<rect x="328.73" y="343.494" width="40.17" height="2.639" fill="rgb(7,167,7)"/>
<rect x="328.73" y="345.532" width="40.17" height="2.639" fill="rgb(6,3,2)"/>
<rect x="328.73" y="347.571" width="40.17" height="2.639" fill="rgb(4,104,4)"/>
<rect x="328.73" y="349.610" width="40.17" height="4.678" fill="rgb(67,12,1)"/>
<rect x="328.73" y="353.688" width="40.17" height="4.678" fill="rgb(238,42,4)"/>
<rect x="328.73" y="357.766" width="40.17" height="2.639" fill="rgb(2,37,2)"/>
<rect x="328.73" y="359.805" width="40.17" height="10.195" fill="rgb(238,42,4)"/>
<rect x="368.30" y="56.000" width="40.17" height="6.717" fill="rgb(7,167,7)"/>
<rect x="368.30" y="62.117" width="40.17" height="2.639" fill="rgb(4,104,4)"/>
<rect x="368.30" y="64.156" width="40.17" height="8.756" fill="rgb(7,167,7)"/>
<rect x="368.30" y="72.312" width="40.17" height="2.639" fill="rgb(6,3,2)"/>
<rect x="368.30" y="74.351" width="40.17" height="2.639" fill="rgb(190,34,3)"/>
<rect x="368.30" y="76.390" width="40.17" height="6.717" fill="rgb(2,37,2)"/>
<rect x="368.30" y="82.506" width="40.17" height="2.639" fill="rgb(7,167,7)"/>
<rect x="368.30" y="84.545" width="40.17" height="2.639" fill="rgb(2,37,2)"/>
<rect x="368.30" y="86.584" width="40.17" height="4.678" fill="rgb(6,3,2)"/>
<rect x="368.30" y="90.662" width="40.17" height="4.678" fill="rgb(2,37,2)"/>
<rect x="368.30" y="94.740" width="40.17" height="2.639" fill="rgb(6,3,2)"/>
<rect x="368.30" y="96.779" width="40.17" height="4.678" fill="rgb(4,104,4)"/>
<rect x="368.30" y="100.857" width="40.17" height="2.639" fill="rgb(6,3,2)"/>
<rect x="368.30" y="102.896" width="40.17" height="2.639" fill="rgb(7,167,7)"/>
<rect x="368.30" y="104.935" width="40.17" height="2.639" fill="rgb(6,3,2)"/>
<rect x="368.30" y="106.974" width="40.17" height="2.639" fill="rgb(67,12,1)"/>
<rect x="368.30" y="109.013" width="40.17" height="2.639" fill="rgb(6,3,2)"/>
<rect x="368.30" y="111.052" width="40.17" height="2.639" fill="rgb(2,37,2)"/>
<rect x="368.30" y="113.091" width="40.17" height="4.678" fill="rgb(238,42,4)"/>
<rect x="368.30" y="117.169" width="40.17" height="2.639" fill="rgb(6,3,2)"/>
<rect x="368.30" y="119.208" width="40.17" height="2.639" fill="rgb(2,37,2)"/>
<rect x="368.30" y="121.247" width="40.17" height="4.678" fill="rgb(190,34,3)"/>
<rect x="368.30" y="125.325" width="40.17" height="4.678" fill="rgb(6,3,2)"/>
<rect x="368.30" y="129.403" width="40.17" height="2.639" fill="rgb(238,42,4)"/>
<rect x="368.30" y="131.442" width="40.17" height="4.678" fill="rgb(6,3,2)"/>
<rect x="368.30" y="135.519" width="40.17" height="2.639" fill="rgb(67,12,1)"/>
<rect x="368.30" y="137.558" width="40.17" height="2.639" fill="rgb(6,3,2)"/>
<rect x="368.30" y="139.597" width="40.17" height="2.639" fill="rgb(2,37,2)"/>
<rect x="368.30" y="141.636" width="40.17" height="2.639" fill="rgb(6,3,2)"/>
<rect x="368.30" y="143.675" width="40.17" height="4.678" fill="rgb(4,104,4)"/>
<rect x="368.30" y="147.753" width="40.17" height="4.678" fill="rgb(6,3,2)"/>
<rect x="368.30" y="151.831" width="40.17" height="2.639" fill="rgb(2,37,2)"/>
<rect x="368.30" y="153.870" width="40.17" height="4.678" fill="rgb(6,3,2)"/>
<rect x="368.30" y="157.948" width="40.17" height="2.639" fill="rgb(2,37,2)"/>
<rect x="368.30" y="159.987" width="40.17" height="4.678" fill="rgb(67,12,1)"/>
<rect x="368.30" y="164.065" width="40.17" height="2.639" fill="rgb(2,37,2)"/>
<rect x="368.30" y="166.104" width="40.17" height="2.639" fill="rgb(6,3,2)"/>
<rect x="368.30" y="168.143" width="40.17" height="2.639" fill="rgb(190,34,3)"/>
<rect x="368.30" y="170.182" width="40.17" height="2.639" fill="rgb(6,3,2)"/>
<rect x="368.30" y="172.221" width="40.17" height="2.639" fill="rgb(131,23,2)"/>
<rect x="368.30" y="174.260" width="40.17" height="2.639" fill="rgb(6,3,2)"/>
<rect x="368.30" y="176.299" width="40.17" height="6.717" fill="rgb(4,104,4)"/>
<rect x="368.30" y="182.416" width="40.17" height="6.717" fill="rgb(6,3,2)"/>
<rect x="368.30" y="188.532" width="40.17" height="2.639" fill="rgb(4,104,4)"/>
<rect x="368.30" y="190.571" width="40.17" height="2.639" fill="rgb(6,3,2)"/>
<rect x="368.30" y="192.610" width="40.17" height="4.678" fill="rgb(238,42,4)"/>
<rect x="368.30" y="196.688" width="40.17" height="2.639" fill="rgb(6,3,2)"/>
<rect x="368.30" y="198.727" width="40.17" height="2.639" fill="rgb(4,104,4)"/>
<rect x="368.30" y="200.766" width="40.17" height="2.639" fill="rgb(6,3,2)"/>
<rect x="368.30" y="202.805" width="40.17" height="2.639" fill="rgb(190,34,3)"/>
<rect x="368.30" y="204.844" width="40.17" height="4.678" fill="rgb(67,12,1)"/>
<rect x="368.30" y="208.922" width="40.17" height="2.639" fill="rgb(6,3,2)"/>
<rect x="368.30" y="210.961" width="40.17" height="4.678" fill="rgb(67,12,1)"/>
<rect x="368.30" y="215.039" width="40.17" height="2.639" fill="rgb(6,3,2)"/>
<rect x="368.30" y="217.078" width="40.17" height="4.678" fill="rgb(238,42,4)"/>
<rect x="368.30" y="221.156" width="40.17" height="2.639" fill="rgb(190,34,3)"/>
<rect x="368.30" y="223.195" width="40.17" height="2.639" fill="rgb(6,3,2)"/>
<rect x="368.30" y="225.234" width="40.17" height="6.717" fill="rgb(67,12,1)"/>
<rect x="368.30" y="231.351" width="40.17" height="2.639" fill="rgb(6,3,2)"/>
<rect x="368.30" y="233.390" width="40.17" height="2.639" fill="rgb(67,12,1)"/>
<rect x="368.30" y="235.429" width="40.17" height="2.639" fill="rgb(6,3,2)"/>
<rect x="368.30" y="237.468" width="40.17" height="4.678" fill="rgb(190,34,3)"/>
<rect x="368.30" y="241.545" width="40.17" height="2.639" fill="rgb(238,42,4)"/>
<rect x="368.30" y="243.584" width="40.17" height="2.639" fill="rgb(190,34,3)"/>
<rect x="368.30" y="245.623" width="40.17" height="2.639" fill="rgb(131,23,2)"/>
<rect x="368.30" y="247.662" width="40.17" height="2.639" fill="rgb(6,3,2)"/>
<rect x="368.30" y="249.701" width="40.17" height="2.639" fill="rgb(67,12,1)"/>
<rect x="368.30" y="251.740" width="40.17" height="2.639" fill="rgb(6,3,2)"/>
<rect x="368.30" y="253.779" width="40.17" height="2.639" fill="rgb(67,12,1)"/>
<rect x="368.30" y="255.818" width="40.17" height="4.678" fill="rgb(6,3,2)"/>
<rect x="368.30" y="259.896" width="40.17" height="2.639" fill="rgb(238,42,4)"/>
<rect x="368.30" y="261.935" width="40.17" height="2.639" fill="rgb(6,3,2)"/>
<rect x="368.30" y="263.974" width="40.17" height="4.678" fill="rgb(67,12,1)"/>
<rect x="368.30" y="268.052" width="40.17" height="2.639" fill="rgb(6,3,2)"/>
<rect x="368.30" y="270.091" width="40.17" height="4.678" fill="rgb(238,42,4)"/>
<rect x="368.30" y="274.169" width="40.17" height="2.639" fill="rgb(67,12,1)"/>
<rect x="368.30" y="276.208" width="40.17" height="6.717" fill="rgb(6,3,2)"/>
<rect x="368.30" y="282.325" width="40.17" height="4.678" fill="rgb(238,42,4)"/>
<rect x="368.30" y="286.403" width="40.17" height="6.717" fill="rgb(6,3,2)"/>
<rect x="368.30" y="292.519" width="40.17" height="2.639" fill="rgb(4,104,4)"/>
<rect x="368.30" y="294.558" width="40.17" height="2.639" fill="rgb(6,3,2)"/>
<rect x="368.30" y="296.597" width="40.17" height="2.639" fill="rgb(190,34,3)"/>
<rect x="368.30" y="298.636" width="40.17" height="2.639" fill="rgb(6,3,2)"/>
<rect x="368.30" y="300.675" width="40.17" height="8.756" fill="rgb(238,42,4)"/>
<rect x="368.30" y="308.831" width="40.17" height="2.639" fill="rgb(67,12,1)"/>
<rect x="368.30" y="310.870" width="40.17" height="2.639" fill="rgb(190,34,3)"/>
<rect x="368.30" y="312.909" width="40.17" height="8.756" fill="rgb(238,42,4)"/>
<rect x="368.30" y="321.065" width="40.17" height="2.639" fill="rgb(67,12,1)"/>
<rect x="368.30" y="323.104" width="40.17" height="4.678" fill="rgb(6,3,2)"/>
<rect x="368.30" y="327.182" width="40.17" height="27.106" fill="rgb(238,42,4)"/>
<rect x="368.30" y="353.688" width="40.17" height="2.639" fill="rgb(190,34,3)"/>
<rect x="368.30" y="355.727" width="40.17" height="14.273" fill="rgb(238,42,4)"/>
<rect x="407.87" y="56.000" width="40.17" height="8.756" fill="rgb(7,167,7)"/>
<rect x="407.87" y="64.156" width="40.17" height="2.639" fill="rgb(2,37,2)"/>
<rect x="407.87" y="66.195" width="40.17" height="2.639" fill="rgb(4,104,4)"/>
<rect x="407.87" y="68.234" width="40.17" height="4.678" fill="rgb(2,37,2)"/>
<rect x="407.87" y="72.312" width="40.17" height="2.639" fill="rgb(67,12,1)"/>
<rect x="407.87" y="74.351" width="40.17" height="2.639" fill="rgb(7,167,7)"/>
<rect x="407.87" y="76.390" width="40.17" height="2.639" fill="rgb(2,37,2)"/>
<rect x="407.87" y="78.429" width="40.17" height="2.639" fill="rgb(4,104,4)"/>
<rect x="407.87" y="80.468" width="40.17" height="2.639" fill="rgb(2,37,2)"/>
<rect x="407.87" y="82.506" width="40.17" height="4.678" fill="rgb(4,104,4)"/>
<rect x="407.87" y="86.584" width="40.17" height="6.717" fill="rgb(2,37,2)"/>
<rect x="407.87" y="92.701" width="40.17" height="2.639" fill="rgb(7,167,7)"/>
<rect x="407.87" y="94.740" width="40.17" height="2.639" fill="rgb(190,34,3)"/>
<rect x="407.87" y="96.779" width="40.17" height="2.639" fill="rgb(7,167,7)"/>
<rect x="407.87" y="98.818" width="40.17" height="4.678" fill="rgb(6,3,2)"/>
<rect x="407.87" y="102.896" width="40.17" height="4.678" fill="rgb(7,167,7)"/>
<rect x="407.87" y="106.974" width="40.17" height="2.639" fill="rgb(6,3,2)"/>
<rect x="407.87" y="109.013" width="40.17" height="6.717" fill="rgb(67,12,1)"/>
<rect x="407.87" y="115.130" width="40.17" height="4.678" fill="rgb(6,3,2)"/>
<rect x="407.87" y="119.208" width="40.17" height="2.639" fill="rgb(4,104,4)"/>
<rect x="407.87" y="121.247" width="40.17" height="2.639" fill="rgb(6,3,2)"/>
<rect x="407.87" y="123.286" width="40.17" height="2.639" fill="rgb(67,12,1)"/>
<rect x="407.87" y="125.325" width="40.17" height="2.639" fill="rgb(6,3,2)"/>
<rect x="407.87" y="127.364" width="40.17" height="2.639" fill="rgb(67,12,1)"/>
<rect x="407.87" y="129.403" width="40.17" height="2.639" fill="rgb(6,3,2)"/>
<rect x="407.87" y="131.442" width="40.17" height="4.678" fill="rgb(7,167,7)"/>
<rect x="407.87" y="135.519" width="40.17" height="2.639" fill="rgb(4,104,4)"/>
<rect x="407.87" y="137.558" width="40.17" height="2.639" fill="rgb(7,167,7)"/>
<rect x="407.87" y="139.597" width="40.17" height="2.639" fill="rgb(6,3,2)"/>
<rect x="407.87" y="141.636" width="40.17" height="2.639" fill="rgb(4,104,4)"/>
<rect x="407.87" y="143.675" width="40.17" height="4.678" fill="rgb(6,3,2)"/>
<rect x="407.87" y="147.753" width="40.17" height="6.717" fill="rgb(2,37,2)"/>
<rect x="407.87" y="153.870" width="40.17" height="2.639" fill="rgb(6,3,2)"/>
<rect x="407.87" y="155.909" width="40.17" height="4.678" fill="rgb(4,104,4)"/>
<rect x="407.87" y="159.987" width="40.17" height="2.639" fill="rgb(6,3,2)"/>
<rect x="407.87" y="162.026" width="40.17" height="2.639" fill="rgb(67,12,1)"/>
<rect x="407.87" y="164.065" width="40.17" height="2.639" fill="rgb(4,104,4)"/>
<rect x="407.87" y="166.104" width="40.17" height="2.639" fill="rgb(6,3,2)"/>
<rect x="407.87" y="168.143" width="40.17" height="2.639" fill="rgb(238,42,4)"/>
<rect x="407.87" y="170.182" width="40.17" height="2.639" fill="rgb(6,3,2)"/>
<rect x="407.87" y="172.221" width="40.17" height="2.639" fill="rgb(67,12,1)"/>
<rect x="407.87" y="174.260" width="40.17" height="2.639" fill="rgb(6,3,2)"/>
<rect x="407.87" y="176.299" width="40.17" height="2.639" fill="rgb(2,37,2)"/>
<rect x="407.87" y="178.338" width="40.17" height="4.678" fill="rgb(67,12,1)"/>
<rect x="407.87" y="182.416" width="40.17" height="4.678" fill="rgb(10,232,10)"/>
<rect x="407.87" y="186.494" width="40.17" height="2.639" fill="rgb(7,167,7)"/>
<rect x="407.87" y="188.532" width="40.17" height="2.639" fill="rgb(6,3,2)"/>
<rect x="407.87" y="190.571" width="40.17" height="2.639" fill="rgb(2,37,2)"/>
<rect x="407.87" y="192.610" width="40.17" height="2.639" fill="rgb(6,3,2)"/>
<rect x="407.87" y="194.649" width="40.17" height="4.678" fill="rgb(67,12,1)"/>
<rect x="407.87" y="198.727" width="40.17" height="2.639" fill="rgb(6,3,2)"/>
<rect x="407.87" y="200.766" width="40.17" height="2.639" fill="rgb(2,37,2)"/>
<rect x="407.87" y="202.805" width="40.17" height="2.639" fill="rgb(6,3,2)"/>
<rect x="407.87" y="204.844" width="40.17" height="4.678" fill="rgb(131,23,2)"/>
<rect x="407.87" y="208.922" width="40.17" height="6.717" fill="rgb(6,3,2)"/>
<rect x="407.87" y="215.039" width="40.17" height="4.678" fill="rgb(67,12,1)"/>
<rect x="407.87" y="219.117" width="40.17" height="2.639" fill="rgb(6,3,2)"/>
<rect x="407.87" y="221.156" width="40.17" height="2.639" fill="rgb(238,42,4)"/>
<rect x="407.87" y="223.195" width="40.17" height="2.639" fill="rgb(190,34,3)"/>
<rect x="407.87" y="225.234" width="40.17" height="4.678" fill="rgb(6,3,2)"/>
<rect x="407.87" y="229.312" width="40.17" height="2.639" fill="rgb(67,12,1)"/>
<rect x="407.87" y="231.351" width="40.17" height="4.678" fill="rgb(6,3,2)"/>
<rect x="407.87" y="235.429" width="40.17" height="2.639" fill="rgb(4,104,4)"/>
<rect x="407.87" y="237.468" width="40.17" height="2.639" fill="rgb(6,3,2)"/>
<rect x="407.87" y="239.506" width="40.17" height="4.678" fill="rgb(238,42,4)"/>
<rect x="407.87" y="243.584" width="40.17" height="4.678" fill="rgb(6,3,2)"/>
<rect x="407.87" y="247.662" width="40.17" height="4.678" fill="rgb(2,37,2)"/>
<rect x="407.87" y="251.740" width="40.17" height="2.639" fill="rgb(6,3,2)"/>
<rect x="407.87" y="253.779" width="40.17" height="4.678" fill="rgb(4,104,4)"/>
<rect x="407.87" y="257.857" width="40.17" height="2.639" fill="rgb(6,3,2)"/>
<rect x="407.87" y="259.896" width="40.17" height="2.639" fill="rgb(190,34,3)"/>
<rect x="407.87" y="261.935" width="40.17" height="2.639" fill="rgb(2,37,2)"/>
<rect x="407.87" y="263.974" width="40.17" height="2.639" fill="rgb(131,23,2)"/>
<rect x="407.87" y="266.013" width="40.17" height="2.639" fill="rgb(6,3,2)"/>
<rect x="407.87" y="268.052" width="40.17" height="2.639" fill="rgb(67,12,1)"/>
<rect x="407.87" y="270.091" width="40.17" height="2.639" fill="rgb(6,3,2)"/>
<rect x="407.87" y="272.130" width="40.17" height="2.639" fill="rgb(190,34,3)"/>
<rect x="407.87" y="274.169" width="40.17" height="2.639" fill="rgb(6,3,2)"/>
<rect x="407.87" y="276.208" width="40.17" height="2.639" fill="rgb(190,34,3)"/>
<rect x="407.87" y="278.247" width="40.17" height="2.639" fill="rgb(4,104,4)"/>
<rect x="407.87" y="280.286" width="40.17" height="6.717" fill="rgb(6,3,2)"/>
<rect x="407.87" y="286.403" width="40.17" height="2.639" fill="rgb(67,12,1)"/>
<rect x="407.87" y="288.442" width="40.17" height="2.639" fill="rgb(190,34,3)"/>
<rect x="407.87" y="290.481" width="40.17" height="6.717" fill="rgb(238,42,4)"/>
<rect x="407.87" y="296.597" width="40.17" height="2.639" fill="rgb(6,3,2)"/>
<rect x="407.87" y="298.636" width="40.17" height="2.639" fill="rgb(190,34,3)"/>
<rect x="407.87" y="300.675" width="40.17" height="2.639" fill="rgb(6,3,2)"/>
<rect x="407.87" y="302.714" width="40.17" height="2.639" fill="rgb(2,37,2)"/>
<rect x="407.87" y="304.753" width="40.17" height="4.678" fill="rgb(4,104,4)"/>
<rect x="407.87" y="308.831" width="40.17" height="4.678" fill="rgb(67,12,1)"/>
<rect x="407.87" y="312.909" width="40.17" height="2.639" fill="rgb(238,42,4)"/>
<rect x="407.87" y="314.948" width="40.17" height="2.639" fill="rgb(6,3,2)"/>
<rect x="407.87" y="316.987" width="40.17" height="2.639" fill="rgb(67,12,1)"/>
<rect x="407.87" y="319.026" width="40.17" height="8.756" fill="rgb(238,42,4)"/>
<rect x="407.87" y="327.182" width="40.17" height="2.639" fill="rgb(67,12,1)"/>
<rect x="407.87" y="329.221" width="40.17" height="8.756" fill="rgb(238,42,4)"/>
<rect x="407.87" y="337.377" width="40.17" height="2.639" fill="rgb(67,12,1)"/>
<rect x="407.87" y="339.416" width="40.17" height="2.639" fill="rgb(238,42,4)"/>
<rect x="407.87" y="341.455" width="40.17" height="4.678" fill="rgb(4,104,4)"/>
<rect x="407.87" y="345.532" width="40.17" height="8.756" fill="rgb(238,42,4)"/>
<rect x="407.87" y="353.688" width="40.17" height="2.639" fill="rgb(2,37,2)"/>
<rect x="407.87" y="355.727" width="40.17" height="14.273" fill="rgb(238,42,4)"/>
<rect x="447.43" y="56.000" width="39.57" height="4.678" fill="rgb(7,167,7)"/>
<rect x="447.43" y="60.078" width="39.57" height="4.678" fill="rgb(6,3,2)"/>
<rect x="447.43" y="64.156" width="39.57" height="2.639" fill="rgb(2,37,2)"/>
<rect x="447.43" y="66.195" width="39.57" height="6.717" fill="rgb(7,167,7)"/>
<rect x="447.43" y="72.312" width="39.57" height="2.639" fill="rgb(6,3,2)"/>
<rect x="447.43" y="74.351" width="39.57" height="2.639" fill="rgb(238,42,4)"/>
<rect x="447.43" y="76.390" width="39.57" height="2.639" fill="rgb(6,3,2)"/>
<rect x="447.43" y="78.429" width="39.57" height="6.717" fill="rgb(10,232,10)"/>
<rect x="447.43" y="84.545" width="39.57" height="2.639" fill="rgb(7,167,7)"/>
<rect x="447.43" y="86.584" width="39.57" height="2.639" fill="rgb(2,37,2)"/>
<rect x="447.43" y="88.623" width="39.57" height="4.678" fill="rgb(6,3,2)"/>
<rect x="447.43" y="92.701" width="39.57" height="6.717" fill="rgb(10,232,10)"/>
<rect x="447.43" y="98.818" width="39.57" height="2.639" fill="rgb(6,3,2)"/>
<rect x="447.43" y="100.857" width="39.57" height="4.678" fill="rgb(7,167,7)"/>
<rect x="447.43" y="104.935" width="39.57" height="2.639" fill="rgb(67,12,1)"/>
<rect x="447.43" y="106.974" width="39.57" height="2.639" fill="rgb(7,167,7)"/>
<rect x="447.43" y="109.013" width="39.57" height="2.639" fill="rgb(6,3,2)"/>
<rect x="447.43" y="111.052" width="39.57" height="2.639" fill="rgb(7,167,7)"/>
<rect x="447.43" y="113.091" width="39.57" height="2.639" fill="rgb(6,3,2)"/>
<rect x="447.43" y="115.130" width="39.57" height="2.639" fill="rgb(7,167,7)"/>
<rect x="447.43" y="117.169" width="39.57" height="2.639" fill="rgb(6,3,2)"/>
<rect x="447.43" y="119.208" width="39.57" height="2.639" fill="rgb(2,37,2)"/>
<rect x="447.43" y="121.247" width="39.57" height="4.678" fill="rgb(6,3,2)"/>
<rect x="447.43" y="125.325" width="39.57" height="6.717" fill="rgb(10,232,10)"/>
<rect x="447.43" y="131.442" width="39.57" height="2.639" fill="rgb(6,3,2)"/>
<rect x="447.43" y="133.481" width="39.57" height="4.678" fill="rgb(2,37,2)"/>
<rect x="447.43" y="137.558" width="39.57" height="2.639" fill="rgb(238,42,4)"/>
<rect x="447.43" y="139.597" width="39.57" height="2.639" fill="rgb(6,3,2)"/>
<rect x="447.43" y="141.636" width="39.57" height="2.639" fill="rgb(190,34,3)"/>
<rect x="447.43" y="143.675" width="39.57" height="4.678" fill="rgb(6,3,2)"/>
<rect x="447.43" y="147.753" width="39.57" height="2.639" fill="rgb(10,232,10)"/>
<rect x="447.43" y="149.792" width="39.57" height="2.639" fill="rgb(7,167,7)"/>
<rect x="447.43" y="151.831" width="39.57" height="2.639" fill="rgb(67,12,1)"/>
<rect x="447.43" y="153.870" width="39.57" height="2.639" fill="rgb(6,3,2)"/>
<rect x="447.43" y="155.909" width="39.57" height="2.639" fill="rgb(4,104,4)"/>
<rect x="447.43" y="157.948" width="39.57" height="6.717" fill="rgb(2,37,2)"/>
<rect x="447.43" y="164.065" width="39.57" height="2.639" fill="rgb(6,3,2)"/>
<rect x="447.43" y="166.104" width="39.57" height="4.678" fill="rgb(10,232,10)"/>
<rect x="447.43" y="170.182" width="39.57" height="2.639" fill="rgb(6,3,2)"/>
<rect x="447.43" y="172.221" width="39.57" height="2.639" fill="rgb(190,34,3)"/>
<rect x="447.43" y="174.260" width="39.57" height="2.639" fill="rgb(6,3,2)"/>
<rect x="447.43" y="176.299" width="39.57" height="2.639" fill="rgb(2,37,2)"/>
<rect x="447.43" y="178.338" width="39.57" height="2.639" fill="rgb(7,167,7)"/>
<rect x="447.43" y="180.377" width="39.57" height="4.678" fill="rgb(6,3,2)"/>
<rect x="447.43" y="184.455" width="39.57" height="4.678" fill="rgb(190,34,3)"/>
<rect x="447.43" y="188.532" width="39.57" height="2.639" fill="rgb(6,3,2)"/>
<rect x="447.43" y="190.571" width="39.57" height="2.639" fill="rgb(4,104,4)"/>
<rect x="447.43" y="192.610" width="39.57" height="4.678" fill="rgb(238,42,4)"/>
<rect x="447.43" y="196.688" width="39.57" height="2.639" fill="rgb(67,12,1)"/>
<rect x="447.43" y="198.727" width="39.57" height="2.639" fill="rgb(6,3,2)"/>
<rect x="447.43" y="200.766" width="39.57" height="4.678" fill="rgb(131,23,2)"/>
<rect x="447.43" y="204.844" width="39.57" height="2.639" fill="rgb(6,3,2)"/>
<rect x="447.43" y="206.883" width="39.57" height="2.639" fill="rgb(67,12,1)"/>
<rect x="447.43" y="208.922" width="39.57" height="4.678" fill="rgb(6,3,2)"/>
<rect x="447.43" y="213.000" width="39.57" height="2.639" fill="rgb(2,37,2)"/>
<rect x="447.43" y="215.039" width="39.57" height="2.639" fill="rgb(6,3,2)"/>
<rect x="447.43" y="217.078" width="39.57" height="4.678" fill="rgb(10,232,10)"/>
<rect x="447.43" y="221.156" width="39.57" height="6.717" fill="rgb(6,3,2)"/>
<rect x="447.43" y="227.273" width="39.57" height="2.639" fill="rgb(2,37,2)"/>
<rect x="447.43" y="229.312" width="39.57" height="2.639" fill="rgb(67,12,1)"/>
<rect x="447.43" y="231.351" width="39.57" height="2.639" fill="rgb(6,3,2)"/>
<rect x="447.43" y="233.390" width="39.57" height="4.678" fill="rgb(4,104,4)"/>
<rect x="447.43" y="237.468" width="39.57" height="2.639" fill="rgb(6,3,2)"/>
<rect x="447.43" y="239.506" width="39.57" height="4.678" fill="rgb(7,167,7)"/>
<rect x="447.43" y="243.584" width="39.57" height="2.639" fill="rgb(6,3,2)"/>
<rect x="447.43" y="245.623" width="39.57" height="2.639" fill="rgb(238,42,4)"/>
<rect x="447.43" y="247.662" width="39.57" height="2.639" fill="rgb(6,3,2)"/>
<rect x="447.43" y="249.701" width="39.57" height="4.678" fill="rgb(67,12,1)"/>
<rect x="447.43" y="253.779" width="39.57" height="2.639" fill="rgb(6,3,2)"/>
<rect x="447.43" y="255.818" width="39.57" height="2.639" fill="rgb(190,34,3)"/>
<rect x="447.43" y="257.857" width="39.57" height="2.639" fill="rgb(6,3,2)"/>
<rect x="447.43" y="259.896" width="39.57" height="2.639" fill="rgb(2,37,2)"/>
<rect x="447.43" y="261.935" width="39.57" height="2.639" fill="rgb(190,34,3)"/>
<rect x="447.43" y="263.974" width="39.57" height="8.756" fill="rgb(2,37,2)"/>
<rect x="447.43" y="272.130" width="39.57" height="2.639" fill="rgb(4,104,4)"/>
<rect x="447.43" y="274.169" width="39.57" height="8.756" fill="rgb(6,3,2)"/>
<rect x="447.43" y="282.325" width="39.57" height="2.639" fill="rgb(190,34,3)"/>
<rect x="447.43" y="284.364" width="39.57" height="2.639" fill="rgb(6,3,2)"/>
<rect x="447.43" y="286.403" width="39.57" height="2.639" fill="rgb(2,37,2)"/>
<rect x="447.43" y="288.442" width="39.57" height="2.639" fill="rgb(6,3,2)"/>
<rect x="447.43" y="290.481" width="39.57" height="2.639" fill="rgb(4,104,4)"/>
<rect x="447.43" y="292.519" width="39.57" height="2.639" fill="rgb(6,3,2)"/>
<rect x="447.43" y="294.558" width="39.57" height="2.639" fill="rgb(2,37,2)"/>
<rect x="447.43" y="296.597" width="39.57" height="6.717" fill="rgb(6,3,2)"/>
<rect x="447.43" y="302.714" width="39.57" height="4.678" fill="rgb(238,42,4)"/>
<rect x="447.43" y="306.792" width="39.57" height="4.678" fill="rgb(6,3,2)"/>
<rect x="447.43" y="310.870" width="39.57" height="4.678" fill="rgb(238,42,4)"/>
<rect x="447.43" y="314.948" width="39.57" height="2.639" fill="rgb(6,3,2)"/>
<rect x="447.43" y="316.987" width="39.57" height="4.678" fill="rgb(238,42,4)"/>
<rect x="447.43" y="321.065" width="39.57" height="2.639" fill="rgb(6,3,2)"/>
<rect x="447.43" y="323.104" width="39.57" height="4.678" fill="rgb(2,37,2)"/>
<rect x="447.43" y="327.182" width="39.57" height="2.639" fill="rgb(6,3,2)"/>
<rect x="447.43" y="329.221" width="39.57" height="2.639" fill="rgb(67,12,1)"/>
<rect x="447.43" y="331.260" width="39.57" height="2.639" fill="rgb(6,3,2)"/>
<rect x="447.43" y="333.299" width="39.57" height="4.678" fill="rgb(238,42,4)"/>
<rect x="447.43" y="337.377" width="39.57" height="4.678" fill="rgb(6,3,2)"/>
<rect x="447.43" y="341.455" width="39.57" height="6.717" fill="rgb(238,42,4)"/>
<rect x="447.43" y="347.571" width="39.57" height="4.678" fill="rgb(6,3,2)"/>
<rect x="447.43" y="351.649" width="39.57" height="18.351" fill="rgb(238,42,4)"/>
</g>
<rect x="12.2" y="56" width="474.8" height="314" fill="none" stroke="#000" stroke-width="0.7" stroke-opacity="0.8"/>
<path d="M71.55,56V60.5M71.55,370V365.5M150.68,56V60.5M150.68,370V365.5M229.82,56V60.5M229.82,370V365.5M308.95,56V60.5M308.95,370V365.5M388.08,56V60.5M388.08,370V365.5M467.22,56V60.5M467.22,370V365.5M12.2,95.76H16.7M487,95.76H482.5M12.2,136.54H16.7M487,136.54H482.5M12.2,177.32H16.7M487,177.32H482.5M12.2,218.10H16.7M487,218.10H482.5M12.2,258.88H16.7M487,258.88H482.5M12.2,299.66H16.7M487,299.66H482.5M12.2,340.44H16.7M487,340.44H482.5" stroke="#000" stroke-width="0.6" stroke-opacity="0.8" fill="none"/>
<rect x="495.8" y="56" width="11.2" height="314" fill="url(#cb)" stroke="#000" stroke-width="0.8"/>
<g font-size="5" fill="#333" text-anchor="end">
<text x="11" y="96.7">20</text>
<text x="11" y="137.5">40</text>
<text x="11" y="178.3">60</text>
<text x="11" y="219.1">80</text>
<text x="11" y="259.9">100</text>
<text x="11" y="300.7">120</text>
<text x="11" y="341.5">140</text>
</g>
<g font-size="5" fill="#333" text-anchor="middle">
<text x="71.6" y="376">2</text>
<text x="150.7" y="376">4</text>
<text x="229.9" y="376">6</text>
<text x="309" y="376">8</text>
<text x="388.2" y="376">10</text>
<text x="467.3" y="376">12</text>
</g>
<g font-size="5" fill="#333">
<text x="508.5" y="60.6">0.8</text>
<text x="508.5" y="99.5">0.6</text>
<text x="508.5" y="138">0.4</text>
<text x="508.5" y="175.8">0.2</text>
<text x="508.5" y="214">0</text>
<text x="508.5" y="252.6">-0.2</text>
<text x="508.5" y="291">-0.4</text>
<text x="508.5" y="329.5">-0.6</text>
<text x="508.5" y="368">-0.8</text>
</g>
<g fill="none" stroke="#8ea5c4" stroke-width="1.2">
<path d="M11.2,46.5 L11.2,33 Q11.5,29.6 15,29.6 L126,29.6 Q129.5,29.6 130.3,12.3 Q131.1,29.6 134.6,29.6 L245,29.6 Q248.5,29.6 249,33 L249.4,46.5"/>
<path d="M249.4,46.5 L249.8,33 Q250.3,29.6 254,29.6 L364.5,29.6 Q368,29.6 368.6,12.2 Q369.2,29.6 372.7,29.6 L483,29.6 Q486.8,29.6 487.3,33 L487.5,46.5"/>
</g>
<g font-size="9.6" fill="#111" text-anchor="middle">
<text x="130.5" y="9.3">Untreated</text>
<text x="370" y="9.3">Treated</text>
</g>
<g font-size="9" fill="#111" text-anchor="middle">
<text x="31" y="45.7">Pt 1</text>
<text x="74" y="45.7">Pt 2</text>
<text x="107.3" y="45.7">Pt 3</text>
<text x="145.3" y="45.7">Reh</text>
<text x="186.9" y="45.7">RS4:11</text>
<text x="228.3" y="45.7">MV4:11</text>
<text x="260.6" y="45.7">Pt 1</text>
<text x="303.8" y="45.7">Pt 2</text>
<text x="339.8" y="45.7">Pt 3</text>
<text x="377.8" y="45.7">Reh</text>
<text x="421.9" y="45.7">RS4:11</text>
<text x="460.6" y="45.7">MV4:11</text>
</g>
</svg>
</body></html>
